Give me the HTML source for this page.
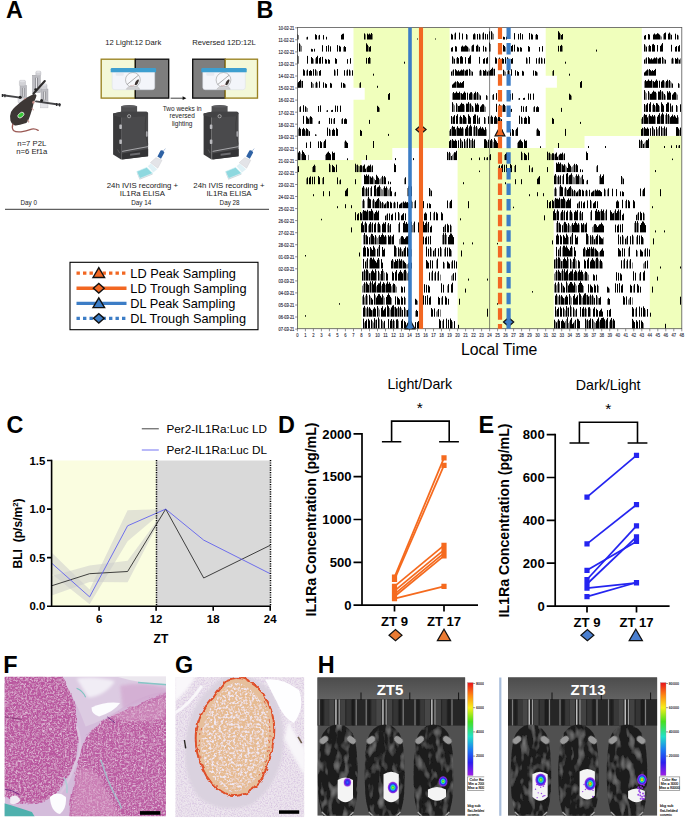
<!DOCTYPE html>
<html lang="en"><head><meta charset="utf-8"><title>Figure</title>
<style>
html,body{margin:0;padding:0;background:#fff;}
body{width:685px;height:819px;overflow:hidden;}
svg{display:block;}
svg text{font-family:"Liberation Sans",Arial,sans-serif;}
</style></head><body>
<svg width="685" height="819" viewBox="0 0 685 819">
<rect width="685" height="819" fill="#fff"/>
<text x="6" y="18" font-size="23.4" font-weight="bold" text-anchor="start" fill="#000" >A</text>
<text x="256.6" y="18" font-size="23.4" font-weight="bold" text-anchor="start" fill="#000" >B</text>
<text x="6.4" y="432.7" font-size="23.4" font-weight="bold" text-anchor="start" fill="#000" >C</text>
<text x="278" y="432.7" font-size="23.4" font-weight="bold" text-anchor="start" fill="#000" >D</text>
<text x="478.4" y="432.7" font-size="23.4" font-weight="bold" text-anchor="start" fill="#000" >E</text>
<text x="3.2" y="673" font-size="23.4" font-weight="bold" text-anchor="start" fill="#000" >F</text>
<text x="175.1" y="673" font-size="23.4" font-weight="bold" text-anchor="start" fill="#000" >G</text>
<text x="317.8" y="673" font-size="23.4" font-weight="bold" text-anchor="start" fill="#000" >H</text>
<g id="acto">
<rect x="297.4" y="27.5" width="384.4" height="301.2" fill="#fff"/>
<path d="M353.5 27.50H449.6V39.60H353.5ZM545.7 27.50H641.8V39.60H545.7ZM353.5 39.55H449.6V51.65H353.5ZM545.7 39.55H641.8V51.65H545.7ZM353.5 51.60H449.6V63.70H353.5ZM545.7 51.60H641.8V63.70H545.7ZM353.5 63.65H449.6V75.75H353.5ZM545.7 63.65H641.8V75.75H545.7ZM353.5 75.70H449.6V87.80H353.5ZM556.9 75.70H641.8V87.80H556.9ZM364.7 87.75H449.6V99.85H364.7ZM545.7 87.75H641.8V99.85H545.7ZM353.5 99.80H449.6V111.90H353.5ZM545.7 99.80H641.8V111.90H545.7ZM353.5 111.85H449.6V123.95H353.5ZM545.7 111.85H641.8V123.95H545.7ZM353.5 123.90H449.6V136.00H353.5ZM545.7 123.90H641.8V136.00H545.7ZM353.5 135.95H449.6V148.05H353.5ZM545.7 135.95H584.5V148.05H545.7ZM649.8 135.95H681.8V148.05H649.8ZM353.5 148.00H392.3V160.10H353.5ZM457.6 148.00H489.6V160.10H457.6ZM489.6 148.00H553.7V160.10H489.6ZM649.8 148.00H681.8V160.10H649.8ZM297.4 160.05H361.5V172.15H297.4ZM457.6 160.05H489.6V172.15H457.6ZM489.6 160.05H553.7V172.15H489.6ZM649.8 160.05H681.8V172.15H649.8ZM297.4 172.10H361.5V184.20H297.4ZM457.6 172.10H489.6V184.20H457.6ZM489.6 172.10H553.7V184.20H489.6ZM649.8 172.10H681.8V184.20H649.8ZM297.4 184.15H361.5V196.25H297.4ZM457.6 184.15H489.6V196.25H457.6ZM489.6 184.15H553.7V196.25H489.6ZM649.8 184.15H681.8V196.25H649.8ZM297.4 196.20H361.5V208.30H297.4ZM457.6 196.20H489.6V208.30H457.6ZM489.6 196.20H553.7V208.30H489.6ZM649.8 196.20H681.8V208.30H649.8ZM297.4 208.25H361.5V220.35H297.4ZM457.6 208.25H489.6V220.35H457.6ZM489.6 208.25H553.7V220.35H489.6ZM649.8 208.25H681.8V220.35H649.8ZM297.4 220.30H361.5V232.40H297.4ZM457.6 220.30H489.6V232.40H457.6ZM489.6 220.30H553.7V232.40H489.6ZM649.8 220.30H681.8V232.40H649.8ZM297.4 232.35H361.5V244.45H297.4ZM457.6 232.35H489.6V244.45H457.6ZM489.6 232.35H553.7V244.45H489.6ZM649.8 232.35H681.8V244.45H649.8ZM297.4 244.40H361.5V256.50H297.4ZM457.6 244.40H489.6V256.50H457.6ZM489.6 244.40H553.7V256.50H489.6ZM649.8 244.40H681.8V256.50H649.8ZM297.4 256.45H361.5V268.55H297.4ZM457.6 256.45H489.6V268.55H457.6ZM489.6 256.45H553.7V268.55H489.6ZM649.8 256.45H681.8V268.55H649.8ZM297.4 268.50H361.5V280.60H297.4ZM457.6 268.50H489.6V280.60H457.6ZM489.6 268.50H553.7V280.60H489.6ZM649.8 268.50H681.8V280.60H649.8ZM297.4 280.55H361.5V292.65H297.4ZM457.6 280.55H489.6V292.65H457.6ZM489.6 280.55H553.7V292.65H489.6ZM649.8 280.55H681.8V292.65H649.8ZM297.4 292.60H361.5V304.70H297.4ZM457.6 292.60H489.6V304.70H457.6ZM489.6 292.60H553.7V304.70H489.6ZM649.8 292.60H681.8V304.70H649.8ZM297.4 304.65H361.5V316.75H297.4ZM457.6 304.65H489.6V316.75H457.6ZM489.6 304.65H553.7V316.75H489.6ZM649.8 304.65H681.8V316.75H649.8ZM297.4 316.70H361.5V328.80H297.4ZM457.6 316.70H489.6V328.80H457.6ZM489.6 316.70H553.7V328.80H489.6ZM649.8 316.70H681.8V328.80H649.8Z" fill="#f0ffbc"/>
<path d="M298.5 39.5v-4.4M306.5 39.5v-2.3M318.5 39.5v-3.9M365.5 39.5v-5.1M372.5 39.5v-5.5M454.5 39.5v-5.8M467.5 39.5v-4.6M475.5 39.5v-5.2M480.5 39.5v-4.9M482.5 39.5v-6.0M492.5 39.5v-7.0M493.5 39.5v-5.7M535.5 39.5v-4.6M560.5 39.5v-5.6M660.5 39.5v-4.0M661.5 39.5v-3.0M663.5 39.5v-5.4M670.5 39.5v-5.8M678.5 39.5v-4.0M300.5 51.6v-7.0M301.5 51.6v-5.7M343.5 51.6v-4.6M368.5 51.6v-5.6M468.5 51.6v-4.0M469.5 51.6v-3.0M471.5 51.6v-5.4M478.5 51.6v-5.8M486.5 51.6v-4.0M490.5 51.6v-7.6M505.5 51.6v-4.5M507.5 51.6v-5.4M562.5 51.6v-5.7M645.5 51.6v-6.2M648.5 51.6v-5.6M298.5 63.7v-7.6M313.5 63.7v-4.5M315.5 63.7v-5.4M370.5 63.7v-5.7M453.5 63.7v-6.2M456.5 63.7v-5.6M498.5 63.7v-5.1M508.5 63.7v-5.4M509.5 63.7v-4.3M527.5 63.7v-5.2M538.5 63.7v-5.2M542.5 63.7v-5.1M645.5 63.7v-5.2M657.5 63.7v-5.4M663.5 63.7v-5.7M664.5 63.7v-4.6M671.5 63.7v-5.0M673.5 63.7v-5.0M678.5 63.7v-5.0M680.5 63.7v-5.3M306.5 75.7v-5.1M316.5 75.7v-5.4M317.5 75.7v-4.3M335.5 75.7v-5.2M346.5 75.7v-5.2M350.5 75.7v-5.1M452.5 75.7v-5.2M464.5 75.7v-5.4M470.5 75.7v-5.7M471.5 75.7v-4.6M479.5 75.7v-5.0M481.5 75.7v-5.0M486.5 75.7v-5.0M488.5 75.7v-5.3M493.5 75.7v-6.8M504.5 75.7v-4.9M505.5 75.7v-4.0M507.5 75.7v-5.0M509.5 75.7v-5.0M537.5 75.7v-3.3M552.5 75.7v-4.6M648.5 75.7v-5.6M301.5 87.8v-6.8M312.5 87.8v-4.9M313.5 87.8v-4.0M315.5 87.8v-5.0M317.5 87.8v-5.0M345.5 87.8v-3.3M359.5 87.8v-4.6M456.5 87.8v-5.6M644.5 87.8v-6.6M652.5 87.8v-6.8M664.5 87.8v-6.5M665.5 87.8v-5.5M668.5 87.8v-6.6M670.5 87.8v-6.6M671.5 87.8v-5.3M679.5 87.8v-3.9M452.5 99.8v-6.6M460.5 99.8v-6.8M472.5 99.8v-6.5M473.5 99.8v-5.5M476.5 99.8v-6.6M478.5 99.8v-6.6M479.5 99.8v-5.3M487.5 99.8v-3.9M492.5 99.8v-4.7M499.5 99.8v-4.7M500.5 99.8v-3.8M518.5 99.8v-1.4M571.5 99.8v-4.1M645.5 99.8v-8.1M646.5 99.8v-6.6M649.5 99.8v-7.3M656.5 99.8v-6.7M661.5 99.8v-8.2M663.5 99.8v-7.1M665.5 99.8v-4.4M676.5 99.8v-6.4M677.5 99.8v-5.2M299.5 111.9v-4.7M306.5 111.9v-4.7M307.5 111.9v-3.8M326.5 111.9v-1.4M379.5 111.9v-4.1M453.5 111.9v-8.1M454.5 111.9v-6.6M457.5 111.9v-7.3M464.5 111.9v-6.7M469.5 111.9v-8.2M471.5 111.9v-7.1M473.5 111.9v-4.4M484.5 111.9v-6.4M485.5 111.9v-5.2M502.5 111.9v-6.5M505.5 111.9v-5.9M510.5 111.9v-2.5M525.5 111.9v-5.0M533.5 111.9v-4.7M645.5 111.9v-6.6M652.5 111.9v-6.9M655.5 111.9v-5.6M659.5 111.9v-5.7M671.5 111.9v-5.5M677.5 111.9v-5.8M309.5 123.9v-6.5M312.5 123.9v-5.9M318.5 123.9v-2.5M333.5 123.9v-5.0M341.5 123.9v-4.7M452.5 123.9v-6.6M459.5 123.9v-6.9M462.5 123.9v-5.6M466.5 123.9v-5.7M478.5 123.9v-5.5M485.5 123.9v-5.8M490.5 123.9v-7.1M497.5 123.9v-5.4M500.5 123.9v-5.8M508.5 123.9v-1.3M522.5 123.9v-6.0M641.5 123.9v-5.2M643.5 123.9v-8.4M648.5 123.9v-8.1M655.5 123.9v-7.4M660.5 123.9v-7.7M665.5 123.9v-8.9M667.5 123.9v-8.9M669.5 123.9v-8.3M678.5 123.9v-6.6M298.5 135.9v-7.1M305.5 135.9v-5.4M308.5 135.9v-5.8M316.5 135.9v-1.3M330.5 135.9v-6.0M449.5 135.9v-5.2M451.5 135.9v-8.4M456.5 135.9v-8.1M463.5 135.9v-7.4M468.5 135.9v-7.7M473.5 135.9v-8.9M475.5 135.9v-8.9M477.5 135.9v-8.3M486.5 135.9v-6.6M515.5 135.9v-5.8M536.5 135.9v-6.3M643.5 135.9v-7.5M653.5 135.9v-8.0M657.5 135.9v-6.6M658.5 135.9v-8.2M662.5 135.9v-7.9M663.5 135.9v-7.9M665.5 135.9v-7.1M679.5 135.9v-6.1M323.5 148.0v-5.8M344.5 148.0v-6.3M451.5 148.0v-7.5M461.5 148.0v-8.0M465.5 148.0v-6.6M466.5 148.0v-8.2M470.5 148.0v-7.9M471.5 148.0v-7.9M473.5 148.0v-7.1M487.5 148.0v-6.1M492.5 148.0v-7.6M493.5 148.0v-6.1M500.5 148.0v-5.2M517.5 148.0v-5.2M640.5 148.0v-6.9M642.5 148.0v-6.9M644.5 148.0v-5.3M645.5 148.0v-6.6M678.5 148.0v-2.4M300.5 160.1v-7.6M301.5 160.1v-6.1M308.5 160.1v-5.2M325.5 160.1v-5.2M448.5 160.1v-6.9M450.5 160.1v-6.9M452.5 160.1v-5.3M453.5 160.1v-6.6M486.5 160.1v-2.4M489.5 160.1v-4.9M504.5 160.1v-5.1M507.5 160.1v-6.2M522.5 160.1v-7.0M548.5 160.1v-7.0M550.5 160.1v-6.3M551.5 160.1v-5.8M554.5 160.1v-5.7M558.5 160.1v-4.5M563.5 160.1v-5.6M297.5 172.1v-4.9M312.5 172.1v-5.1M315.5 172.1v-6.2M330.5 172.1v-7.0M356.5 172.1v-7.0M358.5 172.1v-6.3M359.5 172.1v-5.8M362.5 172.1v-5.7M366.5 172.1v-4.5M371.5 172.1v-5.6M498.5 172.1v-5.8M514.5 172.1v-6.1M531.5 172.1v-3.8M561.5 172.1v-7.9M565.5 172.1v-6.7M566.5 172.1v-5.4M571.5 172.1v-4.9M572.5 172.1v-5.7M573.5 172.1v-7.0M575.5 172.1v-7.0M596.5 172.1v-5.8M306.5 184.2v-5.8M322.5 184.2v-6.1M339.5 184.2v-3.8M369.5 184.2v-7.9M373.5 184.2v-6.7M374.5 184.2v-5.4M379.5 184.2v-4.9M380.5 184.2v-5.7M381.5 184.2v-7.0M383.5 184.2v-7.0M404.5 184.2v-5.8M556.5 184.2v-8.6M557.5 184.2v-7.4M559.5 184.2v-7.5M562.5 184.2v-8.2M568.5 184.2v-7.5M572.5 184.2v-9.1M573.5 184.2v-7.4M574.5 184.2v-6.7M575.5 184.2v-8.3M579.5 184.2v-8.1M580.5 184.2v-6.6M581.5 184.2v-7.8M586.5 184.2v-3.5M599.5 184.2v-8.2M622.5 184.2v-6.9M364.5 196.2v-8.6M365.5 196.2v-7.4M367.5 196.2v-7.5M370.5 196.2v-8.2M376.5 196.2v-7.5M380.5 196.2v-9.1M381.5 196.2v-7.4M382.5 196.2v-6.7M383.5 196.2v-8.3M387.5 196.2v-8.1M388.5 196.2v-6.6M389.5 196.2v-7.8M394.5 196.2v-3.5M407.5 196.2v-8.2M430.5 196.2v-6.9M554.5 196.2v-7.5M556.5 196.2v-7.5M559.5 196.2v-9.6M564.5 196.2v-7.8M566.5 196.2v-7.8M571.5 196.2v-8.4M573.5 196.2v-5.1M575.5 196.2v-5.3M578.5 196.2v-5.9M585.5 196.2v-5.4M587.5 196.2v-5.4M594.5 196.2v-5.7M605.5 196.2v-6.4M607.5 196.2v-6.7M642.5 196.2v-5.7M362.5 208.2v-7.5M364.5 208.2v-7.5M367.5 208.2v-9.6M372.5 208.2v-7.8M374.5 208.2v-7.8M379.5 208.2v-8.4M381.5 208.2v-5.1M383.5 208.2v-5.3M386.5 208.2v-5.9M393.5 208.2v-5.4M395.5 208.2v-5.4M402.5 208.2v-5.7M412.5 208.2v-6.4M414.5 208.2v-6.7M449.5 208.2v-5.7M554.5 208.2v-8.6M560.5 208.2v-8.8M565.5 208.2v-7.8M578.5 208.2v-5.7M591.5 208.2v-7.0M625.5 208.2v-7.2M362.5 220.3v-8.6M368.5 220.3v-8.8M373.5 220.3v-7.8M386.5 220.3v-5.7M399.5 220.3v-7.0M433.5 220.3v-7.2M556.5 220.3v-9.0M560.5 220.3v-7.0M563.5 220.3v-8.2M569.5 220.3v-8.5M572.5 220.3v-6.9M579.5 220.3v-7.9M581.5 220.3v-6.9M590.5 220.3v-8.4M600.5 220.3v-9.2M604.5 220.3v-7.4M605.5 220.3v-9.1M614.5 220.3v-9.1M619.5 220.3v-8.7M637.5 220.3v-6.7M644.5 220.3v-6.6M364.5 232.4v-9.0M368.5 232.4v-7.0M371.5 232.4v-8.2M377.5 232.4v-8.5M380.5 232.4v-6.9M387.5 232.4v-7.9M389.5 232.4v-6.9M398.5 232.4v-8.4M408.5 232.4v-9.2M412.5 232.4v-7.4M413.5 232.4v-9.1M422.5 232.4v-9.1M427.5 232.4v-8.7M444.5 232.4v-6.7M451.5 232.4v-6.6M556.5 232.4v-9.5M558.5 232.4v-9.5M563.5 232.4v-8.9M567.5 232.4v-6.9M569.5 232.4v-7.8M570.5 232.4v-6.3M571.5 232.4v-7.8M579.5 232.4v-7.8M584.5 232.4v-7.9M592.5 232.4v-5.5M593.5 232.4v-6.9M634.5 232.4v-9.5M636.5 232.4v-9.5M638.5 232.4v-9.5M363.5 244.4v-9.5M365.5 244.4v-9.5M370.5 244.4v-8.9M374.5 244.4v-6.9M376.5 244.4v-7.8M377.5 244.4v-6.3M378.5 244.4v-7.8M386.5 244.4v-7.8M391.5 244.4v-7.9M399.5 244.4v-5.5M400.5 244.4v-6.9M442.5 244.4v-9.5M444.5 244.4v-9.5M446.5 244.4v-9.5M568.5 244.4v-7.3M571.5 244.4v-9.7M588.5 244.4v-8.6M591.5 244.4v-7.7M593.5 244.4v-7.7M595.5 244.4v-6.8M603.5 244.4v-7.2M623.5 244.4v-7.9M626.5 244.4v-7.2M633.5 244.4v-8.1M636.5 244.4v-7.8M643.5 244.4v-6.0M375.5 256.5v-7.3M378.5 256.5v-9.7M396.5 256.5v-8.6M399.5 256.5v-7.7M401.5 256.5v-7.7M403.5 256.5v-6.8M411.5 256.5v-7.2M431.5 256.5v-7.9M434.5 256.5v-7.2M441.5 256.5v-8.1M444.5 256.5v-7.8M451.5 256.5v-6.0M559.5 256.5v-8.7M562.5 256.5v-9.1M572.5 256.5v-8.8M585.5 256.5v-7.9M590.5 256.5v-7.9M594.5 256.5v-7.8M598.5 256.5v-4.1M599.5 256.5v-4.3M628.5 256.5v-8.3M637.5 256.5v-5.6M644.5 256.5v-6.8M366.5 268.5v-8.7M369.5 268.5v-9.1M379.5 268.5v-8.8M393.5 268.5v-7.9M398.5 268.5v-7.9M402.5 268.5v-7.8M406.5 268.5v-4.1M407.5 268.5v-4.3M436.5 268.5v-8.3M444.5 268.5v-5.6M451.5 268.5v-6.8M555.5 268.5v-9.3M557.5 268.5v-9.5M560.5 268.5v-9.2M562.5 268.5v-7.5M568.5 268.5v-9.6M571.5 268.5v-8.2M572.5 268.5v-6.6M575.5 268.5v-9.7M576.5 268.5v-7.9M595.5 268.5v-9.0M598.5 268.5v-9.2M599.5 268.5v-7.4M602.5 268.5v-6.1M623.5 268.5v-8.3M626.5 268.5v-7.5M629.5 268.5v-7.9M632.5 268.5v-6.0M643.5 268.5v-5.0M644.5 268.5v-6.2M363.5 280.6v-9.3M365.5 280.6v-9.5M368.5 280.6v-9.2M370.5 280.6v-7.5M376.5 280.6v-9.6M379.5 280.6v-8.2M380.5 280.6v-6.6M383.5 280.6v-9.7M384.5 280.6v-7.9M403.5 280.6v-9.0M406.5 280.6v-9.2M407.5 280.6v-7.4M410.5 280.6v-6.1M431.5 280.6v-8.3M434.5 280.6v-7.5M437.5 280.6v-7.9M440.5 280.6v-6.0M451.5 280.6v-5.0M452.5 280.6v-6.2M554.5 280.6v-7.0M555.5 280.6v-8.6M557.5 280.6v-9.0M561.5 280.6v-9.5M563.5 280.6v-9.7M568.5 280.6v-6.3M573.5 280.6v-7.0M577.5 280.6v-7.7M583.5 280.6v-6.3M584.5 280.6v-7.7M587.5 280.6v-7.3M588.5 280.6v-5.9M639.5 280.6v-7.1M362.5 292.6v-7.0M363.5 292.6v-8.6M365.5 292.6v-9.0M369.5 292.6v-9.5M371.5 292.6v-9.7M376.5 292.6v-6.3M381.5 292.6v-7.0M385.5 292.6v-7.7M391.5 292.6v-6.3M392.5 292.6v-7.7M395.5 292.6v-7.3M396.5 292.6v-5.9M447.5 292.6v-7.1M554.5 292.6v-8.4M556.5 292.6v-7.3M557.5 292.6v-9.0M559.5 292.6v-9.0M562.5 292.6v-8.3M567.5 292.6v-9.4M575.5 292.6v-8.7M576.5 292.6v-7.0M583.5 292.6v-6.6M598.5 292.6v-6.7M609.5 292.6v-4.0M633.5 292.6v-7.1M362.5 304.7v-8.4M364.5 304.7v-7.3M365.5 304.7v-9.0M367.5 304.7v-9.0M370.5 304.7v-8.3M375.5 304.7v-9.4M383.5 304.7v-8.7M384.5 304.7v-7.0M391.5 304.7v-6.6M405.5 304.7v-6.7M417.5 304.7v-4.0M441.5 304.7v-7.1M557.5 304.7v-9.1M558.5 304.7v-8.3M560.5 304.7v-8.3M564.5 304.7v-6.4M570.5 304.7v-8.9M571.5 304.7v-7.2M581.5 304.7v-8.7M582.5 304.7v-7.1M586.5 304.7v-9.7M589.5 304.7v-8.5M591.5 304.7v-8.5M593.5 304.7v-8.4M597.5 304.7v-8.2M598.5 304.7v-6.6M607.5 304.7v-5.7M628.5 304.7v-5.2M629.5 304.7v-6.5M632.5 304.7v-7.2M365.5 316.7v-9.1M366.5 316.7v-8.3M368.5 316.7v-8.3M372.5 316.7v-6.4M378.5 316.7v-8.9M379.5 316.7v-7.2M389.5 316.7v-8.7M390.5 316.7v-7.1M394.5 316.7v-9.7M397.5 316.7v-8.5M399.5 316.7v-8.5M401.5 316.7v-8.4M405.5 316.7v-8.2M406.5 316.7v-6.6M415.5 316.7v-5.7M436.5 316.7v-5.2M437.5 316.7v-6.5M440.5 316.7v-7.2M556.5 316.7v-6.3M564.5 316.7v-7.7M565.5 316.7v-6.3M567.5 316.7v-8.9M571.5 316.7v-9.6M574.5 316.7v-7.9M575.5 316.7v-6.4M584.5 316.7v-7.8M586.5 316.7v-7.8M590.5 316.7v-8.1M635.5 316.7v-7.9M645.5 316.7v-7.0M364.5 328.8v-6.3M372.5 328.8v-7.7M373.5 328.8v-6.3M375.5 328.8v-8.9M379.5 328.8v-9.6M382.5 328.8v-7.9M383.5 328.8v-6.4M392.5 328.8v-7.8M394.5 328.8v-7.8M398.5 328.8v-8.1M442.5 328.8v-7.9M452.5 328.8v-7.0M555.5 328.8v-7.6M557.5 328.8v-8.1M565.5 328.8v-7.9M566.5 328.8v-9.7M568.5 328.8v-5.7M569.5 328.8v-7.4M574.5 328.8v-7.6M586.5 328.8v-8.6M588.5 328.8v-7.9M593.5 328.8v-8.3M594.5 328.8v-6.7M595.5 328.8v-5.9M599.5 328.8v-7.3M605.5 328.8v-7.7M609.5 328.8v-7.3M612.5 328.8v-8.3M643.5 328.8v-5.6" stroke="#000" stroke-opacity="0.5" stroke-width="1" fill="none"/>
<path d="M297.5 39.5v-5.2M307.5 39.5v-2.7M315.5 39.5v-5.3M316.5 39.5v-4.4M319.5 39.5v-4.6M323.5 39.5v-4.4M326.5 39.5v-2.7M341.5 39.5v-4.7M342.5 39.5v-5.6M343.5 39.5v-5.9M364.5 39.5v-6.1M367.5 39.5v-5.9M368.5 39.5v-5.0M369.5 39.5v-5.9M370.5 39.5v-5.0M371.5 39.5v-6.5M417.5 39.5v-1.0M435.5 39.5v-1.0M451.5 39.5v-5.7M452.5 39.5v-4.8M455.5 39.5v-6.9M459.5 39.5v-6.9M462.5 39.5v-6.0M466.5 39.5v-5.5M473.5 39.5v-5.2M474.5 39.5v-6.2M477.5 39.5v-5.5M479.5 39.5v-5.8M483.5 39.5v-7.1M485.5 39.5v-5.7M487.5 39.5v-5.3M489.5 39.5v-8.1M491.5 39.5v-8.3M503.5 39.5v-2.8M504.5 39.5v-2.4M506.5 39.5v-2.8M514.5 39.5v-6.4M518.5 39.5v-5.6M520.5 39.5v-6.4M522.5 39.5v-5.3M529.5 39.5v-6.5M531.5 39.5v-5.8M532.5 39.5v-4.9M536.5 39.5v-5.5M537.5 39.5v-4.6M558.5 39.5v-8.3M559.5 39.5v-6.9M561.5 39.5v-4.5M562.5 39.5v-5.5M644.5 39.5v-3.8M645.5 39.5v-4.5M648.5 39.5v-5.5M649.5 39.5v-5.0M653.5 39.5v-5.0M654.5 39.5v-6.0M655.5 39.5v-5.0M656.5 39.5v-5.3M657.5 39.5v-6.3M658.5 39.5v-5.8M659.5 39.5v-4.9M664.5 39.5v-6.4M665.5 39.5v-7.0M668.5 39.5v-5.8M669.5 39.5v-6.9M671.5 39.5v-4.7M675.5 39.5v-5.8M677.5 39.5v-4.7M297.5 51.6v-8.1M299.5 51.6v-8.3M311.5 51.6v-2.8M312.5 51.6v-2.4M314.5 51.6v-2.8M322.5 51.6v-6.4M326.5 51.6v-5.6M328.5 51.6v-6.4M330.5 51.6v-5.3M337.5 51.6v-6.5M339.5 51.6v-5.8M340.5 51.6v-4.9M344.5 51.6v-5.5M345.5 51.6v-4.6M366.5 51.6v-8.3M367.5 51.6v-6.9M369.5 51.6v-4.5M370.5 51.6v-5.5M451.5 51.6v-3.8M452.5 51.6v-4.5M455.5 51.6v-5.5M456.5 51.6v-5.0M461.5 51.6v-5.0M462.5 51.6v-6.0M463.5 51.6v-5.0M464.5 51.6v-5.3M465.5 51.6v-6.3M466.5 51.6v-5.8M467.5 51.6v-4.9M472.5 51.6v-6.4M473.5 51.6v-7.0M476.5 51.6v-5.8M477.5 51.6v-6.9M479.5 51.6v-4.7M483.5 51.6v-5.8M485.5 51.6v-4.7M489.5 51.6v-9.0M499.5 51.6v-7.8M503.5 51.6v-6.7M504.5 51.6v-5.6M508.5 51.6v-6.6M509.5 51.6v-7.9M511.5 51.6v-5.6M512.5 51.6v-6.7M514.5 51.6v-6.9M517.5 51.6v-4.8M518.5 51.6v-4.0M520.5 51.6v-4.5M521.5 51.6v-3.8M528.5 51.6v-5.6M529.5 51.6v-4.7M539.5 51.6v-4.6M542.5 51.6v-5.5M558.5 51.6v-5.8M560.5 51.6v-5.7M561.5 51.6v-6.7M596.5 51.6v-2.0M644.5 51.6v-7.4M646.5 51.6v-5.0M649.5 51.6v-6.7M650.5 51.6v-5.6M652.5 51.6v-7.2M653.5 51.6v-7.7M654.5 51.6v-6.5M657.5 51.6v-6.6M660.5 51.6v-5.7M661.5 51.6v-7.1M662.5 51.6v-8.5M671.5 51.6v-6.8M675.5 51.6v-4.7M676.5 51.6v-5.6M678.5 51.6v-5.4M679.5 51.6v-6.5M297.5 63.7v-9.0M307.5 63.7v-7.8M311.5 63.7v-6.7M312.5 63.7v-5.6M316.5 63.7v-6.6M317.5 63.7v-7.9M319.5 63.7v-5.6M320.5 63.7v-6.7M322.5 63.7v-6.9M325.5 63.7v-4.8M326.5 63.7v-4.0M328.5 63.7v-4.5M329.5 63.7v-3.8M335.5 63.7v-5.6M336.5 63.7v-4.7M347.5 63.7v-4.6M350.5 63.7v-5.5M366.5 63.7v-5.8M368.5 63.7v-5.7M369.5 63.7v-6.7M404.5 63.7v-2.0M452.5 63.7v-7.4M454.5 63.7v-5.0M457.5 63.7v-6.7M458.5 63.7v-5.6M460.5 63.7v-7.2M461.5 63.7v-7.7M462.5 63.7v-6.5M465.5 63.7v-6.6M468.5 63.7v-5.7M469.5 63.7v-7.1M470.5 63.7v-8.5M479.5 63.7v-6.8M483.5 63.7v-4.7M484.5 63.7v-5.6M486.5 63.7v-5.4M487.5 63.7v-6.5M495.5 63.7v-6.4M496.5 63.7v-5.4M499.5 63.7v-6.1M501.5 63.7v-4.7M502.5 63.7v-5.6M503.5 63.7v-4.7M505.5 63.7v-6.5M507.5 63.7v-6.4M511.5 63.7v-4.7M512.5 63.7v-5.6M526.5 63.7v-6.2M529.5 63.7v-6.7M536.5 63.7v-5.5M539.5 63.7v-6.2M541.5 63.7v-6.1M544.5 63.7v-5.4M565.5 63.7v-2.0M644.5 63.7v-4.2M646.5 63.7v-6.2M648.5 63.7v-6.5M649.5 63.7v-5.4M650.5 63.7v-4.4M651.5 63.7v-5.5M652.5 63.7v-4.2M653.5 63.7v-5.1M654.5 63.7v-6.1M655.5 63.7v-5.4M656.5 63.7v-6.4M658.5 63.7v-5.0M659.5 63.7v-6.0M660.5 63.7v-6.1M662.5 63.7v-6.8M665.5 63.7v-4.0M672.5 63.7v-5.9M675.5 63.7v-5.6M676.5 63.7v-4.7M677.5 63.7v-6.0M679.5 63.7v-4.1M303.5 75.7v-6.4M304.5 75.7v-5.4M307.5 75.7v-6.1M309.5 75.7v-4.7M310.5 75.7v-5.6M311.5 75.7v-4.7M313.5 75.7v-6.5M315.5 75.7v-6.4M319.5 75.7v-4.7M320.5 75.7v-5.6M334.5 75.7v-6.2M337.5 75.7v-6.7M344.5 75.7v-5.5M347.5 75.7v-6.2M349.5 75.7v-6.1M352.5 75.7v-5.4M373.5 75.7v-2.0M451.5 75.7v-4.2M453.5 75.7v-6.2M455.5 75.7v-6.5M456.5 75.7v-5.4M457.5 75.7v-4.4M458.5 75.7v-5.5M459.5 75.7v-4.2M460.5 75.7v-5.1M461.5 75.7v-6.1M462.5 75.7v-5.4M463.5 75.7v-6.4M465.5 75.7v-5.0M466.5 75.7v-6.0M467.5 75.7v-6.1M469.5 75.7v-6.8M472.5 75.7v-4.0M480.5 75.7v-5.9M483.5 75.7v-5.6M484.5 75.7v-4.7M485.5 75.7v-6.0M487.5 75.7v-4.1M489.5 75.7v-4.6M490.5 75.7v-5.7M491.5 75.7v-6.8M492.5 75.7v-8.1M494.5 75.7v-6.9M503.5 75.7v-5.9M508.5 75.7v-6.0M511.5 75.7v-6.4M515.5 75.7v-5.5M517.5 75.7v-4.5M518.5 75.7v-3.7M522.5 75.7v-4.9M523.5 75.7v-4.2M533.5 75.7v-5.3M535.5 75.7v-4.8M536.5 75.7v-4.1M553.5 75.7v-5.5M569.5 75.7v-2.0M644.5 75.7v-3.3M645.5 75.7v-4.3M646.5 75.7v-5.3M647.5 75.7v-6.3M649.5 75.7v-6.7M650.5 75.7v-5.6M651.5 75.7v-4.5M652.5 75.7v-5.6M653.5 75.7v-4.7M654.5 75.7v-5.7M655.5 75.7v-6.8M297.5 87.8v-4.6M298.5 87.8v-5.7M299.5 87.8v-6.8M300.5 87.8v-8.1M302.5 87.8v-6.9M311.5 87.8v-5.9M316.5 87.8v-6.0M319.5 87.8v-6.4M323.5 87.8v-5.5M325.5 87.8v-4.5M326.5 87.8v-3.7M330.5 87.8v-4.9M331.5 87.8v-4.2M341.5 87.8v-5.3M343.5 87.8v-4.8M344.5 87.8v-4.1M360.5 87.8v-5.5M377.5 87.8v-2.0M452.5 87.8v-3.3M453.5 87.8v-4.3M454.5 87.8v-5.3M455.5 87.8v-6.3M457.5 87.8v-6.7M458.5 87.8v-5.6M459.5 87.8v-4.5M460.5 87.8v-5.6M461.5 87.8v-4.7M462.5 87.8v-5.7M463.5 87.8v-6.8M580.5 87.8v-5.7M581.5 87.8v-6.8M645.5 87.8v-7.8M646.5 87.8v-6.6M647.5 87.8v-7.0M648.5 87.8v-8.3M649.5 87.8v-7.0M650.5 87.8v-6.8M651.5 87.8v-8.1M653.5 87.8v-6.7M654.5 87.8v-5.7M655.5 87.8v-7.0M656.5 87.8v-8.3M657.5 87.8v-7.0M659.5 87.8v-7.1M661.5 87.8v-6.2M662.5 87.8v-7.4M663.5 87.8v-7.7M666.5 87.8v-6.8M667.5 87.8v-8.1M669.5 87.8v-7.8M672.5 87.8v-4.3M678.5 87.8v-4.6M388.5 99.8v-5.7M389.5 99.8v-6.8M453.5 99.8v-7.8M454.5 99.8v-6.6M455.5 99.8v-7.0M456.5 99.8v-8.3M457.5 99.8v-7.0M458.5 99.8v-6.8M459.5 99.8v-8.1M461.5 99.8v-6.7M462.5 99.8v-5.7M463.5 99.8v-7.0M464.5 99.8v-8.3M465.5 99.8v-7.0M467.5 99.8v-7.1M469.5 99.8v-6.2M470.5 99.8v-7.4M471.5 99.8v-7.7M474.5 99.8v-6.8M475.5 99.8v-8.1M477.5 99.8v-7.8M480.5 99.8v-4.3M486.5 99.8v-4.6M493.5 99.8v-5.6M496.5 99.8v-6.7M498.5 99.8v-5.6M510.5 99.8v-5.9M512.5 99.8v-6.5M519.5 99.8v-1.7M523.5 99.8v-1.7M524.5 99.8v-2.0M528.5 99.8v-6.4M530.5 99.8v-6.1M533.5 99.8v-6.3M569.5 99.8v-6.1M570.5 99.8v-5.1M644.5 99.8v-9.7M648.5 99.8v-8.7M650.5 99.8v-5.9M651.5 99.8v-6.2M652.5 99.8v-7.6M653.5 99.8v-9.1M654.5 99.8v-8.1M655.5 99.8v-8.0M658.5 99.8v-8.3M659.5 99.8v-8.2M660.5 99.8v-9.8M662.5 99.8v-8.5M664.5 99.8v-5.8M667.5 99.8v-8.6M668.5 99.8v-7.2M669.5 99.8v-8.6M670.5 99.8v-7.2M672.5 99.8v-5.2M673.5 99.8v-6.5M674.5 99.8v-7.7M675.5 99.8v-7.6M300.5 111.9v-5.6M303.5 111.9v-6.7M305.5 111.9v-5.6M318.5 111.9v-5.9M320.5 111.9v-6.5M327.5 111.9v-1.7M331.5 111.9v-1.7M332.5 111.9v-2.0M335.5 111.9v-6.4M337.5 111.9v-6.1M340.5 111.9v-6.3M377.5 111.9v-6.1M378.5 111.9v-5.1M452.5 111.9v-9.7M456.5 111.9v-8.7M458.5 111.9v-5.9M459.5 111.9v-6.2M460.5 111.9v-7.6M461.5 111.9v-9.1M462.5 111.9v-8.1M463.5 111.9v-8.0M466.5 111.9v-8.3M467.5 111.9v-8.2M468.5 111.9v-9.8M470.5 111.9v-8.5M472.5 111.9v-5.8M475.5 111.9v-8.6M476.5 111.9v-7.2M477.5 111.9v-8.6M478.5 111.9v-7.2M480.5 111.9v-5.2M481.5 111.9v-6.5M482.5 111.9v-7.7M483.5 111.9v-7.6M496.5 111.9v-8.1M499.5 111.9v-7.6M500.5 111.9v-6.4M501.5 111.9v-5.2M503.5 111.9v-7.7M504.5 111.9v-7.0M511.5 111.9v-3.0M521.5 111.9v-6.0M523.5 111.9v-5.5M526.5 111.9v-5.9M534.5 111.9v-5.6M536.5 111.9v-4.7M537.5 111.9v-5.6M538.5 111.9v-4.7M561.5 111.9v-4.0M644.5 111.9v-7.9M646.5 111.9v-7.4M647.5 111.9v-8.8M649.5 111.9v-8.1M650.5 111.9v-9.7M653.5 111.9v-8.3M654.5 111.9v-6.9M656.5 111.9v-8.9M657.5 111.9v-8.4M658.5 111.9v-7.0M661.5 111.9v-9.6M662.5 111.9v-8.0M663.5 111.9v-6.5M666.5 111.9v-7.9M667.5 111.9v-9.4M668.5 111.9v-9.4M670.5 111.9v-8.4M672.5 111.9v-6.5M676.5 111.9v-6.9M680.5 111.9v-7.6M303.5 123.9v-8.1M306.5 123.9v-7.6M307.5 123.9v-6.4M308.5 123.9v-5.2M310.5 123.9v-7.7M311.5 123.9v-7.0M319.5 123.9v-3.0M329.5 123.9v-6.0M331.5 123.9v-5.5M334.5 123.9v-5.9M342.5 123.9v-5.6M344.5 123.9v-4.7M345.5 123.9v-5.6M346.5 123.9v-4.7M369.5 123.9v-4.0M451.5 123.9v-7.9M453.5 123.9v-7.4M454.5 123.9v-8.8M456.5 123.9v-8.1M457.5 123.9v-9.7M460.5 123.9v-8.3M461.5 123.9v-6.9M463.5 123.9v-8.9M464.5 123.9v-8.4M465.5 123.9v-7.0M468.5 123.9v-9.6M469.5 123.9v-8.0M470.5 123.9v-6.5M473.5 123.9v-7.9M474.5 123.9v-9.4M475.5 123.9v-9.4M477.5 123.9v-8.4M479.5 123.9v-6.5M484.5 123.9v-6.9M488.5 123.9v-7.6M491.5 123.9v-8.4M492.5 123.9v-7.1M494.5 123.9v-6.7M495.5 123.9v-8.0M496.5 123.9v-6.7M498.5 123.9v-7.6M499.5 123.9v-6.8M501.5 123.9v-4.7M507.5 123.9v-1.6M519.5 123.9v-8.3M521.5 123.9v-7.1M524.5 123.9v-6.0M525.5 123.9v-7.2M526.5 123.9v-6.0M528.5 123.9v-8.0M529.5 123.9v-6.8M552.5 123.9v-6.0M553.5 123.9v-5.0M580.5 123.9v-2.0M642.5 123.9v-6.8M644.5 123.9v-10.0M645.5 123.9v-9.0M646.5 123.9v-9.1M647.5 123.9v-6.6M649.5 123.9v-9.7M650.5 123.9v-8.1M651.5 123.9v-7.5M652.5 123.9v-9.0M653.5 123.9v-7.5M654.5 123.9v-8.8M657.5 123.9v-7.3M658.5 123.9v-9.0M659.5 123.9v-10.7M661.5 123.9v-9.5M662.5 123.9v-11.3M663.5 123.9v-9.5M666.5 123.9v-10.6M668.5 123.9v-9.9M670.5 123.9v-6.7M671.5 123.9v-7.8M672.5 123.9v-9.3M673.5 123.9v-7.4M674.5 123.9v-8.8M675.5 123.9v-7.4M676.5 123.9v-6.0M677.5 123.9v-8.7M299.5 135.9v-8.4M300.5 135.9v-7.1M302.5 135.9v-6.7M303.5 135.9v-8.0M304.5 135.9v-6.7M306.5 135.9v-7.6M307.5 135.9v-6.8M309.5 135.9v-4.7M315.5 135.9v-1.6M327.5 135.9v-8.3M329.5 135.9v-7.1M332.5 135.9v-6.0M333.5 135.9v-7.2M334.5 135.9v-6.0M336.5 135.9v-8.0M337.5 135.9v-6.8M360.5 135.9v-6.0M361.5 135.9v-5.0M388.5 135.9v-2.0M450.5 135.9v-6.8M452.5 135.9v-10.0M453.5 135.9v-9.0M454.5 135.9v-9.1M455.5 135.9v-6.6M457.5 135.9v-9.7M458.5 135.9v-8.1M459.5 135.9v-7.5M460.5 135.9v-9.0M461.5 135.9v-7.5M462.5 135.9v-8.8M465.5 135.9v-7.3M466.5 135.9v-9.0M467.5 135.9v-10.7M469.5 135.9v-9.5M470.5 135.9v-11.3M471.5 135.9v-9.5M474.5 135.9v-10.6M476.5 135.9v-9.9M478.5 135.9v-6.7M479.5 135.9v-7.8M480.5 135.9v-9.3M481.5 135.9v-7.4M482.5 135.9v-8.8M483.5 135.9v-7.4M484.5 135.9v-6.0M485.5 135.9v-8.7M498.5 135.9v-5.5M502.5 135.9v-6.3M510.5 135.9v-6.6M512.5 135.9v-6.9M513.5 135.9v-5.8M516.5 135.9v-7.1M517.5 135.9v-8.5M537.5 135.9v-7.5M538.5 135.9v-6.3M539.5 135.9v-5.1M565.5 135.9v-7.0M641.5 135.9v-6.8M642.5 135.9v-8.1M644.5 135.9v-8.9M645.5 135.9v-7.5M646.5 135.9v-7.1M647.5 135.9v-8.4M648.5 135.9v-7.1M650.5 135.9v-7.7M652.5 135.9v-9.5M654.5 135.9v-6.5M656.5 135.9v-8.9M659.5 135.9v-9.7M661.5 135.9v-9.4M664.5 135.9v-9.4M666.5 135.9v-8.5M676.5 135.9v-8.8M677.5 135.9v-8.9M678.5 135.9v-7.5M680.5 135.9v-8.3M306.5 148.0v-5.5M310.5 148.0v-6.3M318.5 148.0v-6.6M320.5 148.0v-6.9M321.5 148.0v-5.8M324.5 148.0v-7.1M325.5 148.0v-8.5M345.5 148.0v-7.5M346.5 148.0v-6.3M347.5 148.0v-5.1M373.5 148.0v-7.0M449.5 148.0v-6.8M450.5 148.0v-8.1M452.5 148.0v-8.9M453.5 148.0v-7.5M454.5 148.0v-7.1M455.5 148.0v-8.4M456.5 148.0v-7.1M458.5 148.0v-7.7M460.5 148.0v-9.5M462.5 148.0v-6.5M464.5 148.0v-8.9M467.5 148.0v-9.7M469.5 148.0v-9.4M472.5 148.0v-9.4M474.5 148.0v-8.5M484.5 148.0v-8.8M485.5 148.0v-8.9M486.5 148.0v-7.5M488.5 148.0v-8.3M490.5 148.0v-7.6M491.5 148.0v-9.0M494.5 148.0v-9.7M495.5 148.0v-8.1M496.5 148.0v-6.6M497.5 148.0v-5.0M518.5 148.0v-6.4M519.5 148.0v-7.6M520.5 148.0v-8.5M521.5 148.0v-7.1M522.5 148.0v-5.8M524.5 148.0v-8.5M525.5 148.0v-7.1M526.5 148.0v-7.5M540.5 148.0v-1.8M558.5 148.0v-5.0M588.5 148.0v-2.0M605.5 148.0v-2.0M639.5 148.0v-8.2M641.5 148.0v-8.2M643.5 148.0v-4.1M646.5 148.0v-7.9M647.5 148.0v-7.8M648.5 148.0v-9.3M664.5 148.0v-2.0M671.5 148.0v-2.6M676.5 148.0v-2.9M679.5 148.0v-2.9M298.5 160.1v-7.6M299.5 160.1v-9.0M302.5 160.1v-9.7M303.5 160.1v-8.1M304.5 160.1v-6.6M305.5 160.1v-5.0M326.5 160.1v-6.4M327.5 160.1v-7.6M328.5 160.1v-8.5M329.5 160.1v-7.1M330.5 160.1v-5.8M332.5 160.1v-8.5M333.5 160.1v-7.1M334.5 160.1v-7.5M347.5 160.1v-1.8M366.5 160.1v-5.0M395.5 160.1v-2.0M413.5 160.1v-2.0M447.5 160.1v-8.2M449.5 160.1v-8.2M451.5 160.1v-4.1M454.5 160.1v-7.9M455.5 160.1v-7.8M456.5 160.1v-9.3M471.5 160.1v-2.0M479.5 160.1v-2.6M484.5 160.1v-2.9M487.5 160.1v-2.9M490.5 160.1v-5.9M505.5 160.1v-6.2M506.5 160.1v-7.4M521.5 160.1v-8.4M524.5 160.1v-7.2M525.5 160.1v-6.1M526.5 160.1v-4.9M528.5 160.1v-7.5M547.5 160.1v-8.4M549.5 160.1v-7.5M552.5 160.1v-6.9M553.5 160.1v-6.8M555.5 160.1v-6.4M556.5 160.1v-7.6M557.5 160.1v-3.4M559.5 160.1v-5.6M560.5 160.1v-6.6M561.5 160.1v-6.3M562.5 160.1v-7.5M564.5 160.1v-6.7M586.5 160.1v-8.5M587.5 160.1v-7.1M672.5 160.1v-1.5M298.5 172.1v-5.9M313.5 172.1v-6.2M314.5 172.1v-7.4M329.5 172.1v-8.4M332.5 172.1v-7.2M333.5 172.1v-6.1M334.5 172.1v-4.9M336.5 172.1v-7.5M355.5 172.1v-8.4M357.5 172.1v-7.5M360.5 172.1v-6.9M361.5 172.1v-6.8M363.5 172.1v-6.4M364.5 172.1v-7.6M365.5 172.1v-3.4M367.5 172.1v-5.6M368.5 172.1v-6.6M369.5 172.1v-6.3M370.5 172.1v-7.5M372.5 172.1v-6.7M394.5 172.1v-8.5M395.5 172.1v-7.1M479.5 172.1v-1.5M499.5 172.1v-6.9M501.5 172.1v-6.6M502.5 172.1v-7.8M504.5 172.1v-7.4M506.5 172.1v-7.5M510.5 172.1v-8.2M511.5 172.1v-6.9M515.5 172.1v-7.2M529.5 172.1v-6.8M532.5 172.1v-4.7M547.5 172.1v-5.0M556.5 172.1v-9.4M557.5 172.1v-8.3M558.5 172.1v-9.9M559.5 172.1v-8.3M560.5 172.1v-9.5M562.5 172.1v-7.7M563.5 172.1v-6.5M564.5 172.1v-7.9M567.5 172.1v-4.1M568.5 172.1v-9.4M569.5 172.1v-7.9M570.5 172.1v-6.4M574.5 172.1v-8.3M576.5 172.1v-8.1M577.5 172.1v-6.8M580.5 172.1v-2.9M582.5 172.1v-2.4M597.5 172.1v-6.9M655.5 172.1v-2.0M307.5 184.2v-6.9M309.5 184.2v-6.6M310.5 184.2v-7.8M312.5 184.2v-7.4M314.5 184.2v-7.5M318.5 184.2v-8.2M319.5 184.2v-6.9M323.5 184.2v-7.2M337.5 184.2v-6.8M340.5 184.2v-4.7M355.5 184.2v-5.0M364.5 184.2v-9.4M365.5 184.2v-8.3M366.5 184.2v-9.9M367.5 184.2v-8.3M368.5 184.2v-9.5M370.5 184.2v-7.7M371.5 184.2v-6.5M372.5 184.2v-7.9M375.5 184.2v-4.1M376.5 184.2v-9.4M377.5 184.2v-7.9M378.5 184.2v-6.4M382.5 184.2v-8.3M384.5 184.2v-8.1M385.5 184.2v-6.8M388.5 184.2v-2.9M390.5 184.2v-2.4M405.5 184.2v-6.9M463.5 184.2v-2.0M505.5 184.2v-2.0M515.5 184.2v-5.0M521.5 184.2v-5.0M537.5 184.2v-5.5M538.5 184.2v-6.8M539.5 184.2v-8.1M554.5 184.2v-8.6M555.5 184.2v-10.2M558.5 184.2v-8.8M560.5 184.2v-8.9M563.5 184.2v-9.8M566.5 184.2v-10.5M567.5 184.2v-11.2M569.5 184.2v-8.9M570.5 184.2v-9.5M571.5 184.2v-10.9M576.5 184.2v-9.9M577.5 184.2v-8.1M578.5 184.2v-9.7M582.5 184.2v-9.3M583.5 184.2v-4.9M587.5 184.2v-4.3M600.5 184.2v-9.8M601.5 184.2v-6.7M602.5 184.2v-8.2M603.5 184.2v-9.8M621.5 184.2v-8.2M623.5 184.2v-5.6M313.5 196.2v-2.0M323.5 196.2v-5.0M329.5 196.2v-5.0M345.5 196.2v-5.5M346.5 196.2v-6.8M347.5 196.2v-8.1M362.5 196.2v-8.6M363.5 196.2v-10.2M366.5 196.2v-8.8M368.5 196.2v-8.9M371.5 196.2v-9.8M374.5 196.2v-10.5M375.5 196.2v-11.2M377.5 196.2v-8.9M378.5 196.2v-9.5M379.5 196.2v-10.9M384.5 196.2v-9.9M385.5 196.2v-8.1M386.5 196.2v-9.7M390.5 196.2v-9.3M391.5 196.2v-4.9M395.5 196.2v-4.3M408.5 196.2v-9.8M409.5 196.2v-6.7M410.5 196.2v-8.2M411.5 196.2v-9.8M429.5 196.2v-8.2M431.5 196.2v-5.6M529.5 196.2v-2.0M537.5 196.2v-4.0M543.5 196.2v-3.0M555.5 196.2v-8.9M560.5 196.2v-11.5M561.5 196.2v-9.6M562.5 196.2v-8.9M565.5 196.2v-9.3M567.5 196.2v-6.3M568.5 196.2v-7.6M569.5 196.2v-9.1M570.5 196.2v-10.1M572.5 196.2v-6.8M574.5 196.2v-6.3M576.5 196.2v-3.7M577.5 196.2v-4.8M579.5 196.2v-7.1M580.5 196.2v-6.4M582.5 196.2v-6.5M583.5 196.2v-5.5M586.5 196.2v-6.4M589.5 196.2v-6.4M591.5 196.2v-3.7M592.5 196.2v-4.6M593.5 196.2v-5.5M595.5 196.2v-6.7M596.5 196.2v-5.5M597.5 196.2v-6.6M598.5 196.2v-5.7M599.5 196.2v-6.1M600.5 196.2v-5.1M601.5 196.2v-4.1M604.5 196.2v-7.6M608.5 196.2v-7.9M612.5 196.2v-7.5M616.5 196.2v-7.1M620.5 196.2v-4.8M622.5 196.2v-4.9M623.5 196.2v-4.1M640.5 196.2v-7.7M643.5 196.2v-7.1M644.5 196.2v-8.4M660.5 196.2v-7.0M337.5 208.2v-2.0M345.5 208.2v-4.0M351.5 208.2v-3.0M363.5 208.2v-8.9M368.5 208.2v-11.5M369.5 208.2v-9.6M370.5 208.2v-8.9M373.5 208.2v-9.3M375.5 208.2v-6.3M376.5 208.2v-7.6M377.5 208.2v-9.1M378.5 208.2v-10.1M380.5 208.2v-6.8M382.5 208.2v-6.3M384.5 208.2v-3.7M385.5 208.2v-4.8M387.5 208.2v-7.1M388.5 208.2v-6.4M390.5 208.2v-6.5M391.5 208.2v-5.5M394.5 208.2v-6.4M397.5 208.2v-6.4M399.5 208.2v-3.7M400.5 208.2v-4.6M401.5 208.2v-5.5M403.5 208.2v-6.7M404.5 208.2v-5.5M405.5 208.2v-6.6M406.5 208.2v-5.7M407.5 208.2v-6.1M408.5 208.2v-5.1M409.5 208.2v-4.1M411.5 208.2v-7.6M415.5 208.2v-7.9M419.5 208.2v-7.5M423.5 208.2v-7.1M427.5 208.2v-4.8M429.5 208.2v-4.9M430.5 208.2v-4.1M447.5 208.2v-7.7M450.5 208.2v-7.1M451.5 208.2v-8.4M468.5 208.2v-7.0M513.5 208.2v-1.5M547.5 208.2v-8.1M549.5 208.2v-6.0M550.5 208.2v-7.1M552.5 208.2v-8.3M553.5 208.2v-7.0M555.5 208.2v-10.3M556.5 208.2v-9.5M557.5 208.2v-9.6M558.5 208.2v-8.8M559.5 208.2v-10.5M561.5 208.2v-9.4M562.5 208.2v-9.1M563.5 208.2v-11.4M564.5 208.2v-9.6M566.5 208.2v-6.7M567.5 208.2v-8.3M568.5 208.2v-9.8M569.5 208.2v-8.0M570.5 208.2v-9.6M577.5 208.2v-4.7M579.5 208.2v-6.8M581.5 208.2v-6.9M583.5 208.2v-5.5M584.5 208.2v-6.6M587.5 208.2v-7.8M590.5 208.2v-8.3M593.5 208.2v-4.9M594.5 208.2v-6.0M595.5 208.2v-7.2M597.5 208.2v-6.9M616.5 208.2v-6.7M617.5 208.2v-7.9M618.5 208.2v-6.7M622.5 208.2v-8.4M626.5 208.2v-8.5M628.5 208.2v-8.1M629.5 208.2v-6.8M633.5 208.2v-8.1M634.5 208.2v-6.8M652.5 208.2v-2.0M321.5 220.3v-1.5M355.5 220.3v-8.1M357.5 220.3v-6.0M358.5 220.3v-7.1M360.5 220.3v-8.3M361.5 220.3v-7.0M363.5 220.3v-10.3M364.5 220.3v-9.5M365.5 220.3v-9.6M366.5 220.3v-8.8M367.5 220.3v-10.5M369.5 220.3v-9.4M370.5 220.3v-9.1M371.5 220.3v-11.4M372.5 220.3v-9.6M374.5 220.3v-6.7M375.5 220.3v-8.3M376.5 220.3v-9.8M377.5 220.3v-8.0M378.5 220.3v-9.6M385.5 220.3v-4.7M387.5 220.3v-6.8M389.5 220.3v-6.9M391.5 220.3v-5.5M392.5 220.3v-6.6M395.5 220.3v-7.8M398.5 220.3v-8.3M401.5 220.3v-4.9M402.5 220.3v-6.0M403.5 220.3v-7.2M405.5 220.3v-6.9M424.5 220.3v-6.7M425.5 220.3v-7.9M426.5 220.3v-6.7M430.5 220.3v-8.4M434.5 220.3v-8.5M436.5 220.3v-8.1M437.5 220.3v-6.8M441.5 220.3v-8.1M442.5 220.3v-6.8M460.5 220.3v-2.0M544.5 220.3v-5.0M553.5 220.3v-9.1M554.5 220.3v-10.9M555.5 220.3v-7.3M557.5 220.3v-10.7M558.5 220.3v-9.0M561.5 220.3v-8.6M562.5 220.3v-10.3M564.5 220.3v-9.8M566.5 220.3v-8.2M567.5 220.3v-9.7M570.5 220.3v-10.1M571.5 220.3v-8.5M574.5 220.3v-8.2M575.5 220.3v-9.8M576.5 220.3v-8.7M577.5 220.3v-10.4M580.5 220.3v-9.4M582.5 220.3v-8.3M591.5 220.3v-10.0M595.5 220.3v-9.5M596.5 220.3v-11.3M597.5 220.3v-8.6M598.5 220.3v-10.3M599.5 220.3v-8.6M601.5 220.3v-11.0M602.5 220.3v-9.2M603.5 220.3v-10.7M606.5 220.3v-10.8M610.5 220.3v-10.0M611.5 220.3v-8.4M612.5 220.3v-6.8M613.5 220.3v-7.4M615.5 220.3v-10.9M616.5 220.3v-7.4M617.5 220.3v-9.2M618.5 220.3v-10.9M620.5 220.3v-10.4M622.5 220.3v-5.5M623.5 220.3v-6.8M636.5 220.3v-5.5M638.5 220.3v-8.0M640.5 220.3v-8.6M641.5 220.3v-7.2M643.5 220.3v-7.8M351.5 232.4v-5.0M361.5 232.4v-9.1M362.5 232.4v-10.9M363.5 232.4v-7.3M365.5 232.4v-10.7M366.5 232.4v-9.0M369.5 232.4v-8.6M370.5 232.4v-10.3M372.5 232.4v-9.8M374.5 232.4v-8.2M375.5 232.4v-9.7M378.5 232.4v-10.1M379.5 232.4v-8.5M382.5 232.4v-8.2M383.5 232.4v-9.8M384.5 232.4v-8.7M385.5 232.4v-10.4M388.5 232.4v-9.4M390.5 232.4v-8.3M399.5 232.4v-10.0M403.5 232.4v-9.5M404.5 232.4v-11.3M405.5 232.4v-8.6M406.5 232.4v-10.3M407.5 232.4v-8.6M409.5 232.4v-11.0M410.5 232.4v-9.2M411.5 232.4v-10.7M414.5 232.4v-10.8M418.5 232.4v-10.0M419.5 232.4v-8.4M420.5 232.4v-6.8M421.5 232.4v-7.4M423.5 232.4v-10.9M424.5 232.4v-7.4M425.5 232.4v-9.2M426.5 232.4v-10.9M428.5 232.4v-10.4M430.5 232.4v-5.5M431.5 232.4v-6.8M443.5 232.4v-5.5M445.5 232.4v-8.0M447.5 232.4v-8.6M448.5 232.4v-7.2M450.5 232.4v-7.8M557.5 232.4v-11.4M559.5 232.4v-9.7M560.5 232.4v-8.1M562.5 232.4v-7.2M564.5 232.4v-10.6M565.5 232.4v-10.2M566.5 232.4v-8.5M568.5 232.4v-9.3M572.5 232.4v-9.3M573.5 232.4v-7.5M574.5 232.4v-9.3M575.5 232.4v-11.0M576.5 232.4v-9.3M577.5 232.4v-7.8M578.5 232.4v-9.2M581.5 232.4v-9.3M582.5 232.4v-7.9M583.5 232.4v-9.3M585.5 232.4v-8.1M586.5 232.4v-9.7M594.5 232.4v-8.2M595.5 232.4v-8.4M596.5 232.4v-7.1M597.5 232.4v-5.4M598.5 232.4v-6.7M599.5 232.4v-8.0M600.5 232.4v-8.2M601.5 232.4v-9.7M602.5 232.4v-8.2M603.5 232.4v-6.8M615.5 232.4v-7.8M617.5 232.4v-6.7M618.5 232.4v-8.0M620.5 232.4v-7.9M622.5 232.4v-8.5M635.5 232.4v-11.3M637.5 232.4v-11.3M640.5 232.4v-7.5M641.5 232.4v-9.3M642.5 232.4v-11.0M643.5 232.4v-10.8M644.5 232.4v-9.1M645.5 232.4v-7.3M655.5 232.4v-2.0M664.5 232.4v-2.0M364.5 244.4v-11.4M366.5 244.4v-9.7M367.5 244.4v-8.1M369.5 244.4v-7.2M371.5 244.4v-10.6M372.5 244.4v-10.2M373.5 244.4v-8.5M375.5 244.4v-9.3M379.5 244.4v-9.3M380.5 244.4v-7.5M381.5 244.4v-9.3M382.5 244.4v-11.0M383.5 244.4v-9.3M384.5 244.4v-7.8M385.5 244.4v-9.2M388.5 244.4v-9.3M389.5 244.4v-7.9M390.5 244.4v-9.3M392.5 244.4v-8.1M393.5 244.4v-9.7M401.5 244.4v-8.2M402.5 244.4v-8.4M403.5 244.4v-7.1M404.5 244.4v-5.4M405.5 244.4v-6.7M406.5 244.4v-8.0M407.5 244.4v-8.2M408.5 244.4v-9.7M409.5 244.4v-8.2M410.5 244.4v-6.8M423.5 244.4v-7.8M425.5 244.4v-6.7M426.5 244.4v-8.0M428.5 244.4v-7.9M430.5 244.4v-8.5M443.5 244.4v-11.3M445.5 244.4v-11.3M448.5 244.4v-7.5M449.5 244.4v-9.3M450.5 244.4v-11.0M451.5 244.4v-10.8M452.5 244.4v-9.1M453.5 244.4v-7.3M463.5 244.4v-2.0M472.5 244.4v-2.0M497.5 244.4v-1.5M552.5 244.4v-4.0M556.5 244.4v-8.9M557.5 244.4v-10.6M558.5 244.4v-8.9M560.5 244.4v-9.5M561.5 244.4v-8.0M563.5 244.4v-9.5M564.5 244.4v-8.0M565.5 244.4v-6.5M566.5 244.4v-10.7M567.5 244.4v-9.0M570.5 244.4v-7.8M572.5 244.4v-11.5M575.5 244.4v-9.5M576.5 244.4v-6.6M577.5 244.4v-7.9M586.5 244.4v-11.1M587.5 244.4v-10.3M590.5 244.4v-9.2M592.5 244.4v-9.2M594.5 244.4v-5.2M596.5 244.4v-8.4M597.5 244.4v-10.0M599.5 244.4v-9.0M600.5 244.4v-7.6M601.5 244.4v-6.2M602.5 244.4v-5.8M618.5 244.4v-9.9M620.5 244.4v-7.8M622.5 244.4v-9.4M625.5 244.4v-5.8M627.5 244.4v-8.5M630.5 244.4v-8.2M632.5 244.4v-9.6M637.5 244.4v-9.3M639.5 244.4v-8.9M641.5 244.4v-8.9M642.5 244.4v-7.4M653.5 244.4v-6.0M305.5 256.5v-1.5M359.5 256.5v-4.0M363.5 256.5v-8.9M364.5 256.5v-10.6M365.5 256.5v-8.9M367.5 256.5v-9.5M368.5 256.5v-8.0M370.5 256.5v-9.5M371.5 256.5v-8.0M372.5 256.5v-6.5M373.5 256.5v-10.7M374.5 256.5v-9.0M377.5 256.5v-7.8M379.5 256.5v-11.5M382.5 256.5v-9.5M383.5 256.5v-6.6M384.5 256.5v-7.9M394.5 256.5v-11.1M395.5 256.5v-10.3M398.5 256.5v-9.2M400.5 256.5v-9.2M402.5 256.5v-5.2M404.5 256.5v-8.4M405.5 256.5v-10.0M407.5 256.5v-9.0M408.5 256.5v-7.6M409.5 256.5v-6.2M410.5 256.5v-5.8M426.5 256.5v-9.9M428.5 256.5v-7.8M430.5 256.5v-9.4M433.5 256.5v-5.8M435.5 256.5v-8.5M438.5 256.5v-8.2M440.5 256.5v-9.6M445.5 256.5v-9.3M447.5 256.5v-8.9M449.5 256.5v-8.9M450.5 256.5v-7.4M461.5 256.5v-6.0M556.5 256.5v-9.6M558.5 256.5v-7.0M560.5 256.5v-10.3M563.5 256.5v-10.8M564.5 256.5v-10.8M565.5 256.5v-9.2M566.5 256.5v-10.9M567.5 256.5v-8.9M568.5 256.5v-7.4M569.5 256.5v-6.0M570.5 256.5v-8.8M571.5 256.5v-10.5M574.5 256.5v-9.4M575.5 256.5v-5.9M583.5 256.5v-7.9M584.5 256.5v-9.4M586.5 256.5v-6.4M587.5 256.5v-9.0M588.5 256.5v-7.5M589.5 256.5v-9.4M591.5 256.5v-9.7M592.5 256.5v-7.8M593.5 256.5v-9.3M595.5 256.5v-8.0M596.5 256.5v-6.7M597.5 256.5v-5.4M600.5 256.5v-5.6M601.5 256.5v-6.9M602.5 256.5v-8.2M603.5 256.5v-5.8M618.5 256.5v-8.5M619.5 256.5v-7.2M620.5 256.5v-5.8M622.5 256.5v-8.3M624.5 256.5v-8.0M629.5 256.5v-9.9M636.5 256.5v-6.7M640.5 256.5v-7.1M641.5 256.5v-6.0M642.5 256.5v-4.8M645.5 256.5v-8.1M647.5 256.5v-8.1M649.5 256.5v-7.0M363.5 268.5v-9.6M365.5 268.5v-7.0M367.5 268.5v-10.3M370.5 268.5v-10.8M371.5 268.5v-10.8M372.5 268.5v-9.2M373.5 268.5v-10.9M374.5 268.5v-8.9M375.5 268.5v-7.4M376.5 268.5v-6.0M377.5 268.5v-8.8M378.5 268.5v-10.5M381.5 268.5v-9.4M382.5 268.5v-5.9M391.5 268.5v-7.9M392.5 268.5v-9.4M394.5 268.5v-6.4M395.5 268.5v-9.0M396.5 268.5v-7.5M397.5 268.5v-9.4M399.5 268.5v-9.7M400.5 268.5v-7.8M401.5 268.5v-9.3M403.5 268.5v-8.0M404.5 268.5v-6.7M405.5 268.5v-5.4M408.5 268.5v-5.6M409.5 268.5v-6.9M410.5 268.5v-8.2M411.5 268.5v-5.8M426.5 268.5v-8.5M427.5 268.5v-7.2M428.5 268.5v-5.8M430.5 268.5v-8.3M432.5 268.5v-8.0M437.5 268.5v-9.9M443.5 268.5v-6.7M447.5 268.5v-7.1M448.5 268.5v-6.0M449.5 268.5v-4.8M452.5 268.5v-8.1M454.5 268.5v-8.1M456.5 268.5v-7.0M554.5 268.5v-9.0M556.5 268.5v-11.0M558.5 268.5v-11.3M559.5 268.5v-10.9M561.5 268.5v-7.4M563.5 268.5v-9.3M564.5 268.5v-11.0M565.5 268.5v-9.4M566.5 268.5v-7.9M567.5 268.5v-11.4M570.5 268.5v-9.8M573.5 268.5v-9.7M574.5 268.5v-11.6M578.5 268.5v-8.3M579.5 268.5v-7.0M584.5 268.5v-9.0M585.5 268.5v-7.6M587.5 268.5v-8.9M588.5 268.5v-10.6M590.5 268.5v-7.1M591.5 268.5v-8.7M592.5 268.5v-10.4M593.5 268.5v-8.7M594.5 268.5v-7.3M596.5 268.5v-10.7M597.5 268.5v-10.9M600.5 268.5v-9.0M601.5 268.5v-7.5M621.5 268.5v-8.2M624.5 268.5v-9.9M627.5 268.5v-9.0M630.5 268.5v-9.4M645.5 268.5v-7.4M647.5 268.5v-8.0M660.5 268.5v-2.0M680.5 268.5v-2.0M362.5 280.6v-9.0M364.5 280.6v-11.0M366.5 280.6v-11.3M367.5 280.6v-10.9M369.5 280.6v-7.4M371.5 280.6v-9.3M372.5 280.6v-11.0M373.5 280.6v-9.4M374.5 280.6v-7.9M375.5 280.6v-11.4M378.5 280.6v-9.8M381.5 280.6v-9.7M382.5 280.6v-11.6M386.5 280.6v-8.3M387.5 280.6v-7.0M392.5 280.6v-9.0M393.5 280.6v-7.6M395.5 280.6v-8.9M396.5 280.6v-10.6M398.5 280.6v-7.1M399.5 280.6v-8.7M400.5 280.6v-10.4M401.5 280.6v-8.7M402.5 280.6v-7.3M404.5 280.6v-10.7M405.5 280.6v-10.9M408.5 280.6v-9.0M409.5 280.6v-7.5M429.5 280.6v-8.2M432.5 280.6v-9.9M435.5 280.6v-9.0M438.5 280.6v-9.4M453.5 280.6v-7.4M455.5 280.6v-8.0M468.5 280.6v-2.0M487.5 280.6v-2.0M556.5 280.6v-10.3M558.5 280.6v-10.8M559.5 280.6v-9.0M560.5 280.6v-7.7M562.5 280.6v-11.3M564.5 280.6v-11.5M565.5 280.6v-8.3M566.5 280.6v-9.9M567.5 280.6v-11.3M569.5 280.6v-7.7M570.5 280.6v-9.2M571.5 280.6v-9.3M572.5 280.6v-11.1M574.5 280.6v-8.7M575.5 280.6v-10.4M576.5 280.6v-9.2M578.5 280.6v-9.1M579.5 280.6v-11.1M580.5 280.6v-8.7M581.5 280.6v-10.3M582.5 280.6v-8.7M585.5 280.6v-9.2M586.5 280.6v-8.6M593.5 280.6v-6.3M594.5 280.6v-5.3M596.5 280.6v-5.9M616.5 280.6v-8.4M618.5 280.6v-7.8M620.5 280.6v-7.3M621.5 280.6v-6.1M633.5 280.6v-9.3M635.5 280.6v-7.9M640.5 280.6v-8.5M643.5 280.6v-8.3M644.5 280.6v-9.9M657.5 280.6v-4.0M364.5 292.6v-10.3M366.5 292.6v-10.8M367.5 292.6v-9.0M368.5 292.6v-7.7M370.5 292.6v-11.3M372.5 292.6v-11.5M373.5 292.6v-8.3M374.5 292.6v-9.9M375.5 292.6v-11.3M377.5 292.6v-7.7M378.5 292.6v-9.2M379.5 292.6v-9.3M380.5 292.6v-11.1M382.5 292.6v-8.7M383.5 292.6v-10.4M384.5 292.6v-9.2M386.5 292.6v-9.1M387.5 292.6v-11.1M388.5 292.6v-8.7M389.5 292.6v-10.3M390.5 292.6v-8.7M393.5 292.6v-9.2M394.5 292.6v-8.6M401.5 292.6v-6.3M402.5 292.6v-5.3M404.5 292.6v-5.9M424.5 292.6v-8.4M426.5 292.6v-7.8M428.5 292.6v-7.3M429.5 292.6v-6.1M441.5 292.6v-9.3M443.5 292.6v-7.9M448.5 292.6v-8.5M451.5 292.6v-8.3M452.5 292.6v-9.9M465.5 292.6v-4.0M532.5 292.6v-1.5M555.5 292.6v-10.0M558.5 292.6v-10.7M561.5 292.6v-9.9M563.5 292.6v-6.8M564.5 292.6v-5.2M566.5 292.6v-11.2M568.5 292.6v-7.2M569.5 292.6v-8.9M570.5 292.6v-10.6M571.5 292.6v-10.5M572.5 292.6v-8.9M573.5 292.6v-7.2M574.5 292.6v-10.3M578.5 292.6v-7.8M579.5 292.6v-9.6M580.5 292.6v-11.4M581.5 292.6v-9.6M582.5 292.6v-7.9M588.5 292.6v-8.4M590.5 292.6v-8.0M591.5 292.6v-6.7M592.5 292.6v-5.4M594.5 292.6v-8.3M595.5 292.6v-6.9M597.5 292.6v-8.0M607.5 292.6v-5.9M608.5 292.6v-5.0M615.5 292.6v-9.3M617.5 292.6v-8.7M619.5 292.6v-9.5M621.5 292.6v-7.0M622.5 292.6v-8.3M630.5 292.6v-7.9M631.5 292.6v-6.7M634.5 292.6v-8.5M637.5 292.6v-8.5M638.5 292.6v-7.1M640.5 292.6v-5.9M652.5 292.6v-6.0M339.5 304.7v-1.5M363.5 304.7v-10.0M366.5 304.7v-10.7M369.5 304.7v-9.9M371.5 304.7v-6.8M372.5 304.7v-5.2M374.5 304.7v-11.2M376.5 304.7v-7.2M377.5 304.7v-8.9M378.5 304.7v-10.6M379.5 304.7v-10.5M380.5 304.7v-8.9M381.5 304.7v-7.2M382.5 304.7v-10.3M386.5 304.7v-7.8M387.5 304.7v-9.6M388.5 304.7v-11.4M389.5 304.7v-9.6M390.5 304.7v-7.9M395.5 304.7v-8.4M397.5 304.7v-8.0M398.5 304.7v-6.7M399.5 304.7v-5.4M401.5 304.7v-8.3M402.5 304.7v-6.9M404.5 304.7v-8.0M415.5 304.7v-5.9M416.5 304.7v-5.0M423.5 304.7v-9.3M425.5 304.7v-8.7M427.5 304.7v-9.5M429.5 304.7v-7.0M430.5 304.7v-8.3M438.5 304.7v-7.9M439.5 304.7v-6.7M442.5 304.7v-8.5M445.5 304.7v-8.5M446.5 304.7v-7.1M448.5 304.7v-5.9M459.5 304.7v-6.0M497.5 304.7v-1.5M555.5 304.7v-9.1M556.5 304.7v-10.8M559.5 304.7v-9.9M561.5 304.7v-9.6M562.5 304.7v-8.1M563.5 304.7v-6.6M565.5 304.7v-8.0M566.5 304.7v-9.5M567.5 304.7v-8.0M569.5 304.7v-10.6M573.5 304.7v-8.8M574.5 304.7v-10.5M575.5 304.7v-6.4M576.5 304.7v-7.9M577.5 304.7v-9.4M579.5 304.7v-11.6M580.5 304.7v-10.4M583.5 304.7v-9.3M584.5 304.7v-11.0M585.5 304.7v-11.5M587.5 304.7v-9.9M588.5 304.7v-8.3M590.5 304.7v-10.1M592.5 304.7v-10.0M594.5 304.7v-6.8M596.5 304.7v-9.7M599.5 304.7v-6.6M600.5 304.7v-7.9M608.5 304.7v-6.8M609.5 304.7v-5.7M623.5 304.7v-8.7M624.5 304.7v-7.3M626.5 304.7v-8.3M630.5 304.7v-7.7M680.5 304.7v-8.0M305.5 316.7v-1.5M363.5 316.7v-9.1M364.5 316.7v-10.8M367.5 316.7v-9.9M369.5 316.7v-9.6M370.5 316.7v-8.1M371.5 316.7v-6.6M373.5 316.7v-8.0M374.5 316.7v-9.5M375.5 316.7v-8.0M377.5 316.7v-10.6M381.5 316.7v-8.8M382.5 316.7v-10.5M383.5 316.7v-6.4M384.5 316.7v-7.9M385.5 316.7v-9.4M387.5 316.7v-11.6M388.5 316.7v-10.4M391.5 316.7v-9.3M392.5 316.7v-11.0M393.5 316.7v-11.5M395.5 316.7v-9.9M396.5 316.7v-8.3M398.5 316.7v-10.1M400.5 316.7v-10.0M402.5 316.7v-6.8M404.5 316.7v-9.7M407.5 316.7v-6.6M408.5 316.7v-7.9M416.5 316.7v-6.8M417.5 316.7v-5.7M431.5 316.7v-8.7M432.5 316.7v-7.3M434.5 316.7v-8.3M438.5 316.7v-7.7M487.5 316.7v-8.0M555.5 316.7v-10.2M557.5 316.7v-7.7M558.5 316.7v-9.2M560.5 316.7v-10.0M561.5 316.7v-8.4M563.5 316.7v-9.2M566.5 316.7v-10.6M568.5 316.7v-9.2M570.5 316.7v-11.4M573.5 316.7v-9.4M576.5 316.7v-8.0M580.5 316.7v-9.7M582.5 316.7v-8.2M583.5 316.7v-9.8M585.5 316.7v-9.2M588.5 316.7v-9.3M589.5 316.7v-9.6M593.5 316.7v-8.1M594.5 316.7v-9.6M596.5 316.7v-7.9M597.5 316.7v-6.6M599.5 316.7v-5.5M600.5 316.7v-6.8M601.5 316.7v-8.1M602.5 316.7v-5.2M607.5 316.7v-6.7M609.5 316.7v-6.6M610.5 316.7v-7.8M632.5 316.7v-9.7M633.5 316.7v-8.2M636.5 316.7v-9.4M639.5 316.7v-10.2M641.5 316.7v-9.0M643.5 316.7v-10.3M644.5 316.7v-8.6M647.5 316.7v-7.7M650.5 316.7v-4.0M363.5 328.8v-10.2M365.5 328.8v-7.7M366.5 328.8v-9.2M368.5 328.8v-10.0M369.5 328.8v-8.4M371.5 328.8v-9.2M374.5 328.8v-10.6M376.5 328.8v-9.2M378.5 328.8v-11.4M381.5 328.8v-9.4M384.5 328.8v-8.0M388.5 328.8v-9.7M390.5 328.8v-8.2M391.5 328.8v-9.8M393.5 328.8v-9.2M396.5 328.8v-9.3M397.5 328.8v-9.6M401.5 328.8v-8.1M402.5 328.8v-9.6M404.5 328.8v-7.9M405.5 328.8v-6.6M407.5 328.8v-5.5M408.5 328.8v-6.8M409.5 328.8v-8.1M410.5 328.8v-5.2M415.5 328.8v-6.7M417.5 328.8v-6.6M418.5 328.8v-7.8M439.5 328.8v-9.7M440.5 328.8v-8.2M443.5 328.8v-9.4M446.5 328.8v-10.2M448.5 328.8v-9.0M450.5 328.8v-10.3M451.5 328.8v-8.6M454.5 328.8v-7.7M458.5 328.8v-4.0M554.5 328.8v-9.1M556.5 328.8v-6.5M558.5 328.8v-9.6M559.5 328.8v-8.1M561.5 328.8v-7.7M562.5 328.8v-9.2M563.5 328.8v-7.7M564.5 328.8v-6.3M567.5 328.8v-11.6M570.5 328.8v-9.2M571.5 328.8v-10.9M572.5 328.8v-4.7M573.5 328.8v-6.1M575.5 328.8v-9.0M577.5 328.8v-10.1M578.5 328.8v-9.4M579.5 328.8v-7.9M585.5 328.8v-10.2M587.5 328.8v-9.4M589.5 328.8v-8.7M590.5 328.8v-10.4M592.5 328.8v-9.9M596.5 328.8v-7.7M597.5 328.8v-9.5M598.5 328.8v-11.3M600.5 328.8v-9.0M601.5 328.8v-10.7M602.5 328.8v-10.9M603.5 328.8v-11.3M604.5 328.8v-9.5M606.5 328.8v-9.2M607.5 328.8v-11.0M610.5 328.8v-9.1M611.5 328.8v-10.8M613.5 328.8v-9.9M614.5 328.8v-8.3M632.5 328.8v-9.9M633.5 328.8v-8.3M634.5 328.8v-6.7M636.5 328.8v-8.6M637.5 328.8v-7.2M639.5 328.8v-8.7M641.5 328.8v-8.3M642.5 328.8v-6.9M665.5 328.8v-5.0" stroke="#000" stroke-width="1" fill="none"/>
<line x1="489.6" y1="27.5" x2="489.6" y2="328.75" stroke="#333" stroke-width="0.6"/>
<rect x="297.4" y="27.5" width="384.4" height="301.2" fill="none" stroke="#555" stroke-width="0.8"/>
<text x="294.3" y="30.1" font-size="5.4" text-anchor="end" fill="#2a2a3a" stroke="#2a2a3a" stroke-width="0.18" textLength="15.8" lengthAdjust="spacingAndGlyphs">10-02-21</text>
<text x="294.3" y="42.1" font-size="5.4" text-anchor="end" fill="#2a2a3a" stroke="#2a2a3a" stroke-width="0.18" textLength="15.8" lengthAdjust="spacingAndGlyphs">11-02-21</text>
<text x="294.3" y="54.2" font-size="5.4" text-anchor="end" fill="#2a2a3a" stroke="#2a2a3a" stroke-width="0.18" textLength="15.8" lengthAdjust="spacingAndGlyphs">12-02-21</text>
<text x="294.3" y="66.2" font-size="5.4" text-anchor="end" fill="#2a2a3a" stroke="#2a2a3a" stroke-width="0.18" textLength="15.8" lengthAdjust="spacingAndGlyphs">13-02-21</text>
<text x="294.3" y="78.3" font-size="5.4" text-anchor="end" fill="#2a2a3a" stroke="#2a2a3a" stroke-width="0.18" textLength="15.8" lengthAdjust="spacingAndGlyphs">14-02-21</text>
<text x="294.3" y="90.3" font-size="5.4" text-anchor="end" fill="#2a2a3a" stroke="#2a2a3a" stroke-width="0.18" textLength="15.8" lengthAdjust="spacingAndGlyphs">15-02-21</text>
<text x="294.3" y="102.4" font-size="5.4" text-anchor="end" fill="#2a2a3a" stroke="#2a2a3a" stroke-width="0.18" textLength="15.8" lengthAdjust="spacingAndGlyphs">16-02-21</text>
<text x="294.3" y="114.5" font-size="5.4" text-anchor="end" fill="#2a2a3a" stroke="#2a2a3a" stroke-width="0.18" textLength="15.8" lengthAdjust="spacingAndGlyphs">17-02-21</text>
<text x="294.3" y="126.5" font-size="5.4" text-anchor="end" fill="#2a2a3a" stroke="#2a2a3a" stroke-width="0.18" textLength="15.8" lengthAdjust="spacingAndGlyphs">18-02-21</text>
<text x="294.3" y="138.5" font-size="5.4" text-anchor="end" fill="#2a2a3a" stroke="#2a2a3a" stroke-width="0.18" textLength="15.8" lengthAdjust="spacingAndGlyphs">19-02-21</text>
<text x="294.3" y="150.6" font-size="5.4" text-anchor="end" fill="#2a2a3a" stroke="#2a2a3a" stroke-width="0.18" textLength="15.8" lengthAdjust="spacingAndGlyphs">20-02-21</text>
<text x="294.3" y="162.7" font-size="5.4" text-anchor="end" fill="#2a2a3a" stroke="#2a2a3a" stroke-width="0.18" textLength="15.8" lengthAdjust="spacingAndGlyphs">21-02-21</text>
<text x="294.3" y="174.7" font-size="5.4" text-anchor="end" fill="#2a2a3a" stroke="#2a2a3a" stroke-width="0.18" textLength="15.8" lengthAdjust="spacingAndGlyphs">22-02-21</text>
<text x="294.3" y="186.8" font-size="5.4" text-anchor="end" fill="#2a2a3a" stroke="#2a2a3a" stroke-width="0.18" textLength="15.8" lengthAdjust="spacingAndGlyphs">23-02-21</text>
<text x="294.3" y="198.8" font-size="5.4" text-anchor="end" fill="#2a2a3a" stroke="#2a2a3a" stroke-width="0.18" textLength="15.8" lengthAdjust="spacingAndGlyphs">24-02-21</text>
<text x="294.3" y="210.8" font-size="5.4" text-anchor="end" fill="#2a2a3a" stroke="#2a2a3a" stroke-width="0.18" textLength="15.8" lengthAdjust="spacingAndGlyphs">25-02-21</text>
<text x="294.3" y="222.9" font-size="5.4" text-anchor="end" fill="#2a2a3a" stroke="#2a2a3a" stroke-width="0.18" textLength="15.8" lengthAdjust="spacingAndGlyphs">26-02-21</text>
<text x="294.3" y="235.0" font-size="5.4" text-anchor="end" fill="#2a2a3a" stroke="#2a2a3a" stroke-width="0.18" textLength="15.8" lengthAdjust="spacingAndGlyphs">27-02-21</text>
<text x="294.3" y="247.0" font-size="5.4" text-anchor="end" fill="#2a2a3a" stroke="#2a2a3a" stroke-width="0.18" textLength="15.8" lengthAdjust="spacingAndGlyphs">28-02-21</text>
<text x="294.3" y="259.1" font-size="5.4" text-anchor="end" fill="#2a2a3a" stroke="#2a2a3a" stroke-width="0.18" textLength="15.8" lengthAdjust="spacingAndGlyphs">01-03-21</text>
<text x="294.3" y="271.1" font-size="5.4" text-anchor="end" fill="#2a2a3a" stroke="#2a2a3a" stroke-width="0.18" textLength="15.8" lengthAdjust="spacingAndGlyphs">02-03-21</text>
<text x="294.3" y="283.2" font-size="5.4" text-anchor="end" fill="#2a2a3a" stroke="#2a2a3a" stroke-width="0.18" textLength="15.8" lengthAdjust="spacingAndGlyphs">03-03-21</text>
<text x="294.3" y="295.2" font-size="5.4" text-anchor="end" fill="#2a2a3a" stroke="#2a2a3a" stroke-width="0.18" textLength="15.8" lengthAdjust="spacingAndGlyphs">04-03-21</text>
<text x="294.3" y="307.3" font-size="5.4" text-anchor="end" fill="#2a2a3a" stroke="#2a2a3a" stroke-width="0.18" textLength="15.8" lengthAdjust="spacingAndGlyphs">05-03-21</text>
<text x="294.3" y="319.3" font-size="5.4" text-anchor="end" fill="#2a2a3a" stroke="#2a2a3a" stroke-width="0.18" textLength="15.8" lengthAdjust="spacingAndGlyphs">06-03-21</text>
<text x="294.3" y="331.4" font-size="5.4" text-anchor="end" fill="#2a2a3a" stroke="#2a2a3a" stroke-width="0.18" textLength="15.8" lengthAdjust="spacingAndGlyphs">07-03-21</text>
<text x="297.4" y="336.8" font-size="4.9" text-anchor="middle" fill="#2a2a3a" stroke="#2a2a3a" stroke-width="0.12" textLength="2.3" lengthAdjust="spacingAndGlyphs">0</text>
<text x="305.4" y="336.8" font-size="4.9" text-anchor="middle" fill="#2a2a3a" stroke="#2a2a3a" stroke-width="0.12" textLength="2.3" lengthAdjust="spacingAndGlyphs">1</text>
<text x="313.4" y="336.8" font-size="4.9" text-anchor="middle" fill="#2a2a3a" stroke="#2a2a3a" stroke-width="0.12" textLength="2.3" lengthAdjust="spacingAndGlyphs">2</text>
<text x="321.4" y="336.8" font-size="4.9" text-anchor="middle" fill="#2a2a3a" stroke="#2a2a3a" stroke-width="0.12" textLength="2.3" lengthAdjust="spacingAndGlyphs">3</text>
<text x="329.4" y="336.8" font-size="4.9" text-anchor="middle" fill="#2a2a3a" stroke="#2a2a3a" stroke-width="0.12" textLength="2.3" lengthAdjust="spacingAndGlyphs">4</text>
<text x="337.4" y="336.8" font-size="4.9" text-anchor="middle" fill="#2a2a3a" stroke="#2a2a3a" stroke-width="0.12" textLength="2.3" lengthAdjust="spacingAndGlyphs">5</text>
<text x="345.4" y="336.8" font-size="4.9" text-anchor="middle" fill="#2a2a3a" stroke="#2a2a3a" stroke-width="0.12" textLength="2.3" lengthAdjust="spacingAndGlyphs">6</text>
<text x="353.5" y="336.8" font-size="4.9" text-anchor="middle" fill="#2a2a3a" stroke="#2a2a3a" stroke-width="0.12" textLength="2.3" lengthAdjust="spacingAndGlyphs">7</text>
<text x="361.5" y="336.8" font-size="4.9" text-anchor="middle" fill="#2a2a3a" stroke="#2a2a3a" stroke-width="0.12" textLength="2.3" lengthAdjust="spacingAndGlyphs">8</text>
<text x="369.5" y="336.8" font-size="4.9" text-anchor="middle" fill="#2a2a3a" stroke="#2a2a3a" stroke-width="0.12" textLength="2.3" lengthAdjust="spacingAndGlyphs">9</text>
<text x="377.5" y="336.8" font-size="4.9" text-anchor="middle" fill="#2a2a3a" stroke="#2a2a3a" stroke-width="0.12" textLength="4.6" lengthAdjust="spacingAndGlyphs">10</text>
<text x="385.5" y="336.8" font-size="4.9" text-anchor="middle" fill="#2a2a3a" stroke="#2a2a3a" stroke-width="0.12" textLength="4.6" lengthAdjust="spacingAndGlyphs">11</text>
<text x="393.5" y="336.8" font-size="4.9" text-anchor="middle" fill="#2a2a3a" stroke="#2a2a3a" stroke-width="0.12" textLength="4.6" lengthAdjust="spacingAndGlyphs">12</text>
<text x="401.5" y="336.8" font-size="4.9" text-anchor="middle" fill="#2a2a3a" stroke="#2a2a3a" stroke-width="0.12" textLength="4.6" lengthAdjust="spacingAndGlyphs">13</text>
<text x="409.5" y="336.8" font-size="4.9" text-anchor="middle" fill="#2a2a3a" stroke="#2a2a3a" stroke-width="0.12" textLength="4.6" lengthAdjust="spacingAndGlyphs">14</text>
<text x="417.5" y="336.8" font-size="4.9" text-anchor="middle" fill="#2a2a3a" stroke="#2a2a3a" stroke-width="0.12" textLength="4.6" lengthAdjust="spacingAndGlyphs">15</text>
<text x="425.5" y="336.8" font-size="4.9" text-anchor="middle" fill="#2a2a3a" stroke="#2a2a3a" stroke-width="0.12" textLength="4.6" lengthAdjust="spacingAndGlyphs">16</text>
<text x="433.5" y="336.8" font-size="4.9" text-anchor="middle" fill="#2a2a3a" stroke="#2a2a3a" stroke-width="0.12" textLength="4.6" lengthAdjust="spacingAndGlyphs">17</text>
<text x="441.5" y="336.8" font-size="4.9" text-anchor="middle" fill="#2a2a3a" stroke="#2a2a3a" stroke-width="0.12" textLength="4.6" lengthAdjust="spacingAndGlyphs">18</text>
<text x="449.6" y="336.8" font-size="4.9" text-anchor="middle" fill="#2a2a3a" stroke="#2a2a3a" stroke-width="0.12" textLength="4.6" lengthAdjust="spacingAndGlyphs">19</text>
<text x="457.6" y="336.8" font-size="4.9" text-anchor="middle" fill="#2a2a3a" stroke="#2a2a3a" stroke-width="0.12" textLength="4.6" lengthAdjust="spacingAndGlyphs">20</text>
<text x="465.6" y="336.8" font-size="4.9" text-anchor="middle" fill="#2a2a3a" stroke="#2a2a3a" stroke-width="0.12" textLength="4.6" lengthAdjust="spacingAndGlyphs">21</text>
<text x="473.6" y="336.8" font-size="4.9" text-anchor="middle" fill="#2a2a3a" stroke="#2a2a3a" stroke-width="0.12" textLength="4.6" lengthAdjust="spacingAndGlyphs">22</text>
<text x="481.6" y="336.8" font-size="4.9" text-anchor="middle" fill="#2a2a3a" stroke="#2a2a3a" stroke-width="0.12" textLength="4.6" lengthAdjust="spacingAndGlyphs">23</text>
<text x="489.6" y="336.8" font-size="4.9" text-anchor="middle" fill="#2a2a3a" stroke="#2a2a3a" stroke-width="0.12" textLength="4.6" lengthAdjust="spacingAndGlyphs">24</text>
<text x="497.6" y="336.8" font-size="4.9" text-anchor="middle" fill="#2a2a3a" stroke="#2a2a3a" stroke-width="0.12" textLength="4.6" lengthAdjust="spacingAndGlyphs">25</text>
<text x="505.6" y="336.8" font-size="4.9" text-anchor="middle" fill="#2a2a3a" stroke="#2a2a3a" stroke-width="0.12" textLength="4.6" lengthAdjust="spacingAndGlyphs">26</text>
<text x="513.6" y="336.8" font-size="4.9" text-anchor="middle" fill="#2a2a3a" stroke="#2a2a3a" stroke-width="0.12" textLength="4.6" lengthAdjust="spacingAndGlyphs">27</text>
<text x="521.6" y="336.8" font-size="4.9" text-anchor="middle" fill="#2a2a3a" stroke="#2a2a3a" stroke-width="0.12" textLength="4.6" lengthAdjust="spacingAndGlyphs">28</text>
<text x="529.6" y="336.8" font-size="4.9" text-anchor="middle" fill="#2a2a3a" stroke="#2a2a3a" stroke-width="0.12" textLength="4.6" lengthAdjust="spacingAndGlyphs">29</text>
<text x="537.6" y="336.8" font-size="4.9" text-anchor="middle" fill="#2a2a3a" stroke="#2a2a3a" stroke-width="0.12" textLength="4.6" lengthAdjust="spacingAndGlyphs">30</text>
<text x="545.7" y="336.8" font-size="4.9" text-anchor="middle" fill="#2a2a3a" stroke="#2a2a3a" stroke-width="0.12" textLength="4.6" lengthAdjust="spacingAndGlyphs">31</text>
<text x="553.7" y="336.8" font-size="4.9" text-anchor="middle" fill="#2a2a3a" stroke="#2a2a3a" stroke-width="0.12" textLength="4.6" lengthAdjust="spacingAndGlyphs">32</text>
<text x="561.7" y="336.8" font-size="4.9" text-anchor="middle" fill="#2a2a3a" stroke="#2a2a3a" stroke-width="0.12" textLength="4.6" lengthAdjust="spacingAndGlyphs">33</text>
<text x="569.7" y="336.8" font-size="4.9" text-anchor="middle" fill="#2a2a3a" stroke="#2a2a3a" stroke-width="0.12" textLength="4.6" lengthAdjust="spacingAndGlyphs">34</text>
<text x="577.7" y="336.8" font-size="4.9" text-anchor="middle" fill="#2a2a3a" stroke="#2a2a3a" stroke-width="0.12" textLength="4.6" lengthAdjust="spacingAndGlyphs">35</text>
<text x="585.7" y="336.8" font-size="4.9" text-anchor="middle" fill="#2a2a3a" stroke="#2a2a3a" stroke-width="0.12" textLength="4.6" lengthAdjust="spacingAndGlyphs">36</text>
<text x="593.7" y="336.8" font-size="4.9" text-anchor="middle" fill="#2a2a3a" stroke="#2a2a3a" stroke-width="0.12" textLength="4.6" lengthAdjust="spacingAndGlyphs">37</text>
<text x="601.7" y="336.8" font-size="4.9" text-anchor="middle" fill="#2a2a3a" stroke="#2a2a3a" stroke-width="0.12" textLength="4.6" lengthAdjust="spacingAndGlyphs">38</text>
<text x="609.7" y="336.8" font-size="4.9" text-anchor="middle" fill="#2a2a3a" stroke="#2a2a3a" stroke-width="0.12" textLength="4.6" lengthAdjust="spacingAndGlyphs">39</text>
<text x="617.7" y="336.8" font-size="4.9" text-anchor="middle" fill="#2a2a3a" stroke="#2a2a3a" stroke-width="0.12" textLength="4.6" lengthAdjust="spacingAndGlyphs">40</text>
<text x="625.7" y="336.8" font-size="4.9" text-anchor="middle" fill="#2a2a3a" stroke="#2a2a3a" stroke-width="0.12" textLength="4.6" lengthAdjust="spacingAndGlyphs">41</text>
<text x="633.8" y="336.8" font-size="4.9" text-anchor="middle" fill="#2a2a3a" stroke="#2a2a3a" stroke-width="0.12" textLength="4.6" lengthAdjust="spacingAndGlyphs">42</text>
<text x="641.8" y="336.8" font-size="4.9" text-anchor="middle" fill="#2a2a3a" stroke="#2a2a3a" stroke-width="0.12" textLength="4.6" lengthAdjust="spacingAndGlyphs">43</text>
<text x="649.8" y="336.8" font-size="4.9" text-anchor="middle" fill="#2a2a3a" stroke="#2a2a3a" stroke-width="0.12" textLength="4.6" lengthAdjust="spacingAndGlyphs">44</text>
<text x="657.8" y="336.8" font-size="4.9" text-anchor="middle" fill="#2a2a3a" stroke="#2a2a3a" stroke-width="0.12" textLength="4.6" lengthAdjust="spacingAndGlyphs">45</text>
<text x="665.8" y="336.8" font-size="4.9" text-anchor="middle" fill="#2a2a3a" stroke="#2a2a3a" stroke-width="0.12" textLength="4.6" lengthAdjust="spacingAndGlyphs">46</text>
<text x="673.8" y="336.8" font-size="4.9" text-anchor="middle" fill="#2a2a3a" stroke="#2a2a3a" stroke-width="0.12" textLength="4.6" lengthAdjust="spacingAndGlyphs">47</text>
<text x="681.8" y="336.8" font-size="4.9" text-anchor="middle" fill="#2a2a3a" stroke="#2a2a3a" stroke-width="0.12" textLength="4.6" lengthAdjust="spacingAndGlyphs">48</text>
<path d="M295.1 27.8H297.4M295.1 39.8H297.4M295.1 51.9H297.4M295.1 64.0H297.4M295.1 76.0H297.4M295.1 88.0H297.4M295.1 100.1H297.4M295.1 112.2H297.4M295.1 124.2H297.4M295.1 136.2H297.4M295.1 148.3H297.4M295.1 160.4H297.4M295.1 172.4H297.4M295.1 184.5H297.4M295.1 196.5H297.4M295.1 208.6H297.4M295.1 220.6H297.4M295.1 232.7H297.4M295.1 244.7H297.4M295.1 256.8H297.4M295.1 268.8H297.4M295.1 280.9H297.4M295.1 292.9H297.4M295.1 305.0H297.4M295.1 317.0H297.4M295.1 329.1H297.4M297.4 328.8v2.5M305.4 328.8v2.5M313.4 328.8v2.5M321.4 328.8v2.5M329.4 328.8v2.5M337.4 328.8v2.5M345.4 328.8v2.5M353.5 328.8v2.5M361.5 328.8v2.5M369.5 328.8v2.5M377.5 328.8v2.5M385.5 328.8v2.5M393.5 328.8v2.5M401.5 328.8v2.5M409.5 328.8v2.5M417.5 328.8v2.5M425.5 328.8v2.5M433.5 328.8v2.5M441.5 328.8v2.5M449.6 328.8v2.5M457.6 328.8v2.5M465.6 328.8v2.5M473.6 328.8v2.5M481.6 328.8v2.5M489.6 328.8v2.5M497.6 328.8v2.5M505.6 328.8v2.5M513.6 328.8v2.5M521.6 328.8v2.5M529.6 328.8v2.5M537.6 328.8v2.5M545.7 328.8v2.5M553.7 328.8v2.5M561.7 328.8v2.5M569.7 328.8v2.5M577.7 328.8v2.5M585.7 328.8v2.5M593.7 328.8v2.5M601.7 328.8v2.5M609.7 328.8v2.5M617.7 328.8v2.5M625.7 328.8v2.5M633.8 328.8v2.5M641.8 328.8v2.5M649.8 328.8v2.5M657.8 328.8v2.5M665.8 328.8v2.5M673.8 328.8v2.5M681.8 328.8v2.5" stroke="#444" stroke-width="0.6"/>
<text x="499.2" y="354.5" font-size="15.8" font-weight="normal" text-anchor="middle" fill="#000" >Local Time</text>
<path d="M415.9 129.5L421 125.2L426.1 129.5L421 133.8Z" fill="#f26722" stroke="#111" stroke-width="1.2" stroke-linejoin="miter"/>
<path d="M495.1 135.79999999999998L500 126.6L504.9 135.79999999999998Z" fill="#f26722" stroke="#111" stroke-width="1.2" stroke-linejoin="miter"/>
<path d="M405.1 328.90000000000003L410 319.7L414.9 328.90000000000003Z" fill="#3c7dc6" stroke="#111" stroke-width="1.2" stroke-linejoin="miter"/>
<path d="M503.5 322L508.6 317.6L513.7 322L508.6 326.4Z" fill="#3c7dc6" stroke="#111" stroke-width="1.2" stroke-linejoin="miter"/>
<line x1="410" y1="27.5" x2="410" y2="328.75" stroke="#3c7dc6" stroke-width="3.6"/>
<line x1="421" y1="27.5" x2="421" y2="328.75" stroke="#f26722" stroke-width="4.1"/>
<line x1="500" y1="27.5" x2="500" y2="328.75" stroke="#f26722" stroke-width="4.2" stroke-dasharray="11.5 4.1"/>
<line x1="508.6" y1="27.5" x2="508.6" y2="328.75" stroke="#3c7dc6" stroke-width="4.2" stroke-dasharray="11.5 4.1"/>
</g>
<g id="legend">
<rect x="70" y="262.3" width="188" height="67.4" fill="#fff" stroke="#000" stroke-width="1.1"/>
<line x1="76.5" y1="273.2" x2="126.5" y2="273.2" stroke="#f26722" stroke-width="3.3" stroke-dasharray="3.4 3.1"/>
<path d="M93.0 277.49999999999994L98.8 267.7L104.6 277.49999999999994Z" fill="#f26722" stroke="#111" stroke-width="1.4" stroke-linejoin="miter"/>
<text x="130.3" y="277.59999999999997" font-size="12.75" font-weight="normal" text-anchor="start" fill="#000" >LD Peak Sampling</text>
<line x1="76.5" y1="288.25" x2="126.5" y2="288.25" stroke="#f26722" stroke-width="3.3"/>
<path d="M93.39999999999999 288.25L98.8 283.55L104.2 288.25L98.8 292.95Z" fill="#f26722" stroke="#111" stroke-width="1.4" stroke-linejoin="miter"/>
<text x="130.3" y="292.65" font-size="12.75" font-weight="normal" text-anchor="start" fill="#000" >LD Trough Sampling</text>
<line x1="76.5" y1="303.3" x2="126.5" y2="303.3" stroke="#3c7dc6" stroke-width="3.3"/>
<path d="M93.0 307.59999999999997L98.8 297.8L104.6 307.59999999999997Z" fill="#3c7dc6" stroke="#111" stroke-width="1.4" stroke-linejoin="miter"/>
<text x="130.3" y="307.7" font-size="12.75" font-weight="normal" text-anchor="start" fill="#000" >DL Peak Sampling</text>
<line x1="76.5" y1="318.35" x2="126.5" y2="318.35" stroke="#3c7dc6" stroke-width="3.3" stroke-dasharray="3.4 3.1"/>
<path d="M93.39999999999999 318.35L98.8 313.65000000000003L104.2 318.35L98.8 323.05Z" fill="#3c7dc6" stroke="#111" stroke-width="1.4" stroke-linejoin="miter"/>
<text x="130.3" y="322.75" font-size="12.75" font-weight="normal" text-anchor="start" fill="#000" >DL Trough Sampling</text>
</g>
<g id="panelC">
<rect x="51.6" y="460.5" width="104.5" height="145.7" fill="#fafde0"/>
<rect x="156.1" y="460.5" width="114.1" height="145.7" fill="#d9d9d9"/>
<polygon points="51.6,576.1 89.6,565.4 127.6,560.8 165.7,509.1 165.7,509.1 127.6,582.2 89.6,581.9 51.6,595.5" fill="#cbcbcb" fill-opacity="0.52"/>
<polygon points="51.6,552.4 89.6,589.6 127.6,510.2 165.7,509.1 165.7,509.1 127.6,541.3 89.6,604.2 51.6,573.8" fill="#cbcbcb" fill-opacity="0.52"/>
<polyline points="51.6,585.8 89.6,573.7 127.6,571.5 165.7,509.1 203.7,578.0 270.2,545.3" fill="none" stroke="#222" stroke-width="0.85" stroke-linejoin="round"/>
<polyline points="51.6,563.1 89.6,596.9 127.6,525.8 165.7,509.1 203.7,540.1 270.2,573.7" fill="none" stroke="#5a5af0" stroke-width="0.85" stroke-linejoin="round"/>
<line x1="156.5" y1="460" x2="156.5" y2="606.2" stroke="#000" stroke-width="1.5" stroke-dasharray="1.2 1.2"/>
<line x1="270.5" y1="460" x2="270.5" y2="606.2" stroke="#000" stroke-width="1.5" stroke-dasharray="1.2 1.2"/>
<path d="M51.6 459.7V606.2H271.0" fill="none" stroke="#000" stroke-width="1.6"/>
<text x="45.300000000000004" y="610.2" font-size="11.4" font-weight="bold" text-anchor="end" fill="#000" >0.0</text>
<text x="45.300000000000004" y="561.6" font-size="11.4" font-weight="bold" text-anchor="end" fill="#000" >0.5</text>
<text x="45.300000000000004" y="513.1" font-size="11.4" font-weight="bold" text-anchor="end" fill="#000" >1.0</text>
<text x="45.300000000000004" y="464.5" font-size="11.4" font-weight="bold" text-anchor="end" fill="#000" >1.5</text>
<text x="99.1" y="622.9000000000001" font-size="11.4" font-weight="bold" text-anchor="middle" fill="#000" >6</text>
<text x="156.1" y="622.9000000000001" font-size="11.4" font-weight="bold" text-anchor="middle" fill="#000" >12</text>
<text x="213.2" y="622.9000000000001" font-size="11.4" font-weight="bold" text-anchor="middle" fill="#000" >18</text>
<text x="270.2" y="622.9000000000001" font-size="11.4" font-weight="bold" text-anchor="middle" fill="#000" >24</text>
<path d="M47.0 606.2H51.6M47.0 557.6H51.6M47.0 509.1H51.6M47.0 460.5H51.6M99.1 606.2v4.6M156.1 606.2v4.6M213.2 606.2v4.6M270.2 606.2v4.6" stroke="#000" stroke-width="1.6"/>
<text x="160.9" y="642.6" font-size="12" font-weight="bold" text-anchor="middle" fill="#000" >ZT</text>
<text transform="translate(22,533.5) rotate(-90)" font-size="12.1" font-weight="bold" text-anchor="middle">BLI&#160;&#160;(p/s/m<tspan font-size="7.6" dy="-4">2</tspan><tspan dy="4">)</tspan></text>
<line x1="141.8" y1="428.8" x2="158.8" y2="428.8" stroke="#222" stroke-width="0.85"/>
<text x="166.4" y="433" font-size="11.75" font-weight="normal" text-anchor="start" fill="#000" >Per2-IL1Ra:Luc LD</text>
<line x1="141.8" y1="450" x2="158.8" y2="450" stroke="#5a5af0" stroke-width="0.85"/>
<text x="166.4" y="454.2" font-size="11.75" font-weight="normal" text-anchor="start" fill="#000" >Per2-IL1Ra:Luc DL</text>
</g>
<g id="panelD">
<line x1="394.5" y1="577.1" x2="444" y2="457.9" stroke="#f56a1e" stroke-width="1.75"/>
<line x1="394.5" y1="579.4" x2="444" y2="465.4" stroke="#f56a1e" stroke-width="1.75"/>
<line x1="394.5" y1="586.4" x2="444" y2="545.4" stroke="#f56a1e" stroke-width="1.75"/>
<line x1="394.5" y1="590.8" x2="444" y2="549.8" stroke="#f56a1e" stroke-width="1.75"/>
<line x1="394.5" y1="594.2" x2="444" y2="553.2" stroke="#f56a1e" stroke-width="1.75"/>
<line x1="394.5" y1="596.5" x2="444" y2="555.9" stroke="#f56a1e" stroke-width="1.75"/>
<line x1="394.5" y1="598.6" x2="444" y2="586.3" stroke="#f56a1e" stroke-width="1.75"/>
<path d="M391.9 574.5h5.2v5.2h-5.2ZM441.4 455.3h5.2v5.2h-5.2ZM391.9 576.8h5.2v5.2h-5.2ZM441.4 462.8h5.2v5.2h-5.2ZM391.9 583.8h5.2v5.2h-5.2ZM441.4 542.8h5.2v5.2h-5.2ZM391.9 588.2h5.2v5.2h-5.2ZM441.4 547.2h5.2v5.2h-5.2ZM391.9 591.6h5.2v5.2h-5.2ZM441.4 550.6h5.2v5.2h-5.2ZM391.9 593.9h5.2v5.2h-5.2ZM441.4 553.3h5.2v5.2h-5.2ZM391.9 596.0h5.2v5.2h-5.2ZM441.4 583.7h5.2v5.2h-5.2Z" fill="#f56a1e"/>
<path d="M362 433.04999999999995V605.1H478" fill="none" stroke="#000" stroke-width="1.7"/>
<text x="351.5" y="609.7" font-size="13.1" font-weight="bold" text-anchor="end" fill="#000" >0</text>
<text x="351.5" y="566.9" font-size="13.1" font-weight="bold" text-anchor="end" fill="#000" >500</text>
<text x="351.5" y="524.1" font-size="13.1" font-weight="bold" text-anchor="end" fill="#000" >1000</text>
<text x="351.5" y="481.3" font-size="13.1" font-weight="bold" text-anchor="end" fill="#000" >1500</text>
<text x="351.5" y="438.5" font-size="13.1" font-weight="bold" text-anchor="end" fill="#000" >2000</text>
<text x="394.5" y="626.0" font-size="13.1" font-weight="bold" text-anchor="middle" fill="#000" >ZT 9</text>
<text x="444" y="626.0" font-size="13.1" font-weight="bold" text-anchor="middle" fill="#000" >ZT 17</text>
<path d="M353.5 605.1H362M353.5 562.3H362M353.5 519.5H362M353.5 476.7H362M353.5 433.9H362M394.5 605.1v6.5M444 605.1v6.5" stroke="#000" stroke-width="1.7"/>
<text x="419.8" y="388.6" font-size="14.2" font-weight="normal" text-anchor="middle" fill="#000" >Light/Dark</text>
<text x="419.8" y="412.6" font-size="15.5" font-weight="normal" text-anchor="middle" fill="#000" >*</text>
<path d="M391.6 441.8V421.1H449.2V441.8M381.9 441.8H401.3M439.1 441.8H458.9" fill="none" stroke="#000" stroke-width="1.6"/>
<text transform="translate(316.2,519.5) rotate(-90)" font-size="14.15" font-weight="bold" text-anchor="middle">IL1Ra Concentration (pg/mL)</text>
<path d="M389.0 635.2L395.5 629.6L402.0 635.2L395.5 640.8000000000001Z" fill="#ea7b33" stroke="#111" stroke-width="1.2" stroke-linejoin="miter"/>
<path d="M437.4 640.6L444 629.1999999999999L450.6 640.6Z" fill="#ea7b33" stroke="#111" stroke-width="1.2" stroke-linejoin="miter"/>
</g>
<g id="panelE">
<line x1="587" y1="497.2" x2="636.5" y2="455.4" stroke="#2424f0" stroke-width="1.75"/>
<line x1="587" y1="543.9" x2="636.5" y2="504.7" stroke="#2424f0" stroke-width="1.75"/>
<line x1="587" y1="570.3" x2="636.5" y2="541.4" stroke="#2424f0" stroke-width="1.75"/>
<line x1="587" y1="579.5" x2="636.5" y2="525.9" stroke="#2424f0" stroke-width="1.75"/>
<line x1="587" y1="584.0" x2="636.5" y2="536.9" stroke="#2424f0" stroke-width="1.75"/>
<line x1="587" y1="588.1" x2="636.5" y2="582.9" stroke="#2424f0" stroke-width="1.75"/>
<line x1="587" y1="596.7" x2="636.5" y2="582.5" stroke="#2424f0" stroke-width="1.75"/>
<path d="M584.4 494.6h5.2v5.2h-5.2ZM633.9 452.8h5.2v5.2h-5.2ZM584.4 541.3h5.2v5.2h-5.2ZM633.9 502.1h5.2v5.2h-5.2ZM584.4 567.7h5.2v5.2h-5.2ZM633.9 538.8h5.2v5.2h-5.2ZM584.4 576.9h5.2v5.2h-5.2ZM633.9 523.3h5.2v5.2h-5.2ZM584.4 581.4h5.2v5.2h-5.2ZM633.9 534.3h5.2v5.2h-5.2ZM584.4 585.5h5.2v5.2h-5.2ZM633.9 580.3h5.2v5.2h-5.2ZM584.4 594.1h5.2v5.2h-5.2ZM633.9 579.9h5.2v5.2h-5.2Z" fill="#2424f0"/>
<path d="M555.2 433.75V606.1H669.6" fill="none" stroke="#000" stroke-width="1.7"/>
<text x="544.7" y="610.7" font-size="13.1" font-weight="bold" text-anchor="end" fill="#000" >0</text>
<text x="544.7" y="567.8" font-size="13.1" font-weight="bold" text-anchor="end" fill="#000" >200</text>
<text x="544.7" y="525.0" font-size="13.1" font-weight="bold" text-anchor="end" fill="#000" >400</text>
<text x="544.7" y="482.1" font-size="13.1" font-weight="bold" text-anchor="end" fill="#000" >600</text>
<text x="544.7" y="439.2" font-size="13.1" font-weight="bold" text-anchor="end" fill="#000" >800</text>
<text x="587" y="627.0" font-size="13.1" font-weight="bold" text-anchor="middle" fill="#000" >ZT 9</text>
<text x="636.5" y="627.0" font-size="13.1" font-weight="bold" text-anchor="middle" fill="#000" >ZT 17</text>
<path d="M546.7 606.1H555.2M546.7 563.2H555.2M546.7 520.4H555.2M546.7 477.5H555.2M546.7 434.6H555.2M587 606.1v6.5M636.5 606.1v6.5" stroke="#000" stroke-width="1.7"/>
<text x="608.2" y="389.6" font-size="14.2" font-weight="normal" text-anchor="middle" fill="#000" >Dark/Light</text>
<text x="608.2" y="414.4" font-size="15.5" font-weight="normal" text-anchor="middle" fill="#000" >*</text>
<path d="M579.4 443V422.3H637.5V443M569.5 443H589.3M627.6 443H647.4" fill="none" stroke="#000" stroke-width="1.6"/>
<text transform="translate(509.4,520.5) rotate(-90)" font-size="14.15" font-weight="bold" text-anchor="middle">IL1Ra Concentration (pg/mL)</text>
<path d="M580.9 635.2L587.4 629.6L593.9 635.2L587.4 640.8000000000001Z" fill="#4a7fd0" stroke="#111" stroke-width="1.2" stroke-linejoin="miter"/>
<path d="M629.1999999999999 640.6L635.8 629.1999999999999L642.4 640.6Z" fill="#4a7fd0" stroke="#111" stroke-width="1.2" stroke-linejoin="miter"/>
</g>
<g id="panelA">
<text x="133.2" y="45.2" font-size="7.65" font-weight="normal" text-anchor="middle" fill="#1a1a1a" >12 Light:12 Dark</text>
<text x="224" y="45.2" font-size="7.65" font-weight="normal" text-anchor="middle" fill="#1a1a1a" >Reversed 12D:12L</text>
<rect x="101.2" y="59.2" width="34.1" height="38.9" fill="#f3f8d8" stroke="#9a8222" stroke-width="1.35"/>
<rect x="135.3" y="59.2" width="33.4" height="38.9" fill="#7e7e7e" stroke="#111" stroke-width="1.35"/>
<path d="M112.2 72V87.2Q112.2 89.7 114.7 89.7H152.2Q154.7 89.7 154.7 87.2V72Z" fill="#f3f5fa" stroke="#d9dde6" stroke-width="0.5"/><rect x="115.7" y="72.5" width="8" height="3.2" rx="1" fill="#e6e9f0"/><circle cx="132.9" cy="79.9" r="7.4" fill="#f7f8fb" stroke="#9a9a9a" stroke-width="0.6"/><path d="M127.0 84.6L138.5 75.2" stroke="#8a8a8a" stroke-width="0.7"/><path d="M126.2 89.2L128.7 86.6H137.7L139.7 89.2Z" fill="#d5d5d8" stroke="#aaa" stroke-width="0.4"/><path d="M134.7 84.8Q135.0 81 138.3 79.2Q139.3 79.6 138.7 81.2Q137.9 84.2 136.1 85.3Z" fill="#3d3633"/><path d="M134.7 84.8Q132.2 86.4 130.2 85.6" stroke="#b06a66" stroke-width="0.4" fill="none"/><path d="M110.7 69.2Q110.7 68 111.9 68H154.9Q156.1 68 156.1 69.2V72.3H110.7Z" fill="#3d9fd0"/>
<rect x="192.7" y="59.2" width="32.5" height="38.9" fill="#7e7e7e" stroke="#111" stroke-width="1.35"/>
<rect x="225.2" y="59.2" width="32.3" height="38.9" fill="#f3f8d8" stroke="#9a8222" stroke-width="1.35"/>
<path d="M202.8 72V87.2Q202.8 89.7 205.3 89.7H242.8Q245.3 89.7 245.3 87.2V72Z" fill="#f3f5fa" stroke="#d9dde6" stroke-width="0.5"/><rect x="206.3" y="72.5" width="8" height="3.2" rx="1" fill="#e6e9f0"/><circle cx="223.5" cy="79.9" r="7.4" fill="#f7f8fb" stroke="#9a9a9a" stroke-width="0.6"/><path d="M217.60000000000002 84.6L229.10000000000002 75.2" stroke="#8a8a8a" stroke-width="0.7"/><path d="M216.8 89.2L219.3 86.6H228.3L230.3 89.2Z" fill="#d5d5d8" stroke="#aaa" stroke-width="0.4"/><path d="M225.3 84.8Q225.60000000000002 81 228.9 79.2Q229.9 79.6 229.3 81.2Q228.5 84.2 226.70000000000002 85.3Z" fill="#3d3633"/><path d="M225.3 84.8Q222.8 86.4 220.8 85.6" stroke="#b06a66" stroke-width="0.4" fill="none"/><path d="M201.3 69.2Q201.3 68 202.5 68H245.5Q246.70000000000002 68 246.70000000000002 69.2V72.3H201.3Z" fill="#3d9fd0"/>
<path d="M170.6 98.2H183.4" stroke="#111" stroke-width="0.8"/><path d="M186.4 98.2L182.6 96.3V100.1Z" fill="#111"/>
<text x="182.2" y="110.8" font-size="6.5" font-weight="normal" text-anchor="middle" fill="#1a1a1a" >Two weeks in</text>
<text x="182.2" y="118.2" font-size="6.5" font-weight="normal" text-anchor="middle" fill="#1a1a1a" >reversed</text>
<text x="182.2" y="125.6" font-size="6.5" font-weight="normal" text-anchor="middle" fill="#1a1a1a" >lighting</text>
<path d="M121.1 106.3Q129.1 104.3 137.1 106.3V113H121.1Z" fill="#4f4f51"/><ellipse cx="129.1" cy="106.3" rx="8" ry="1.3" fill="#5d5d60"/><path d="M113.1 113.6L121.1 111.8V159.6L113.1 154.6Z" fill="#39393b"/><path d="M121.1 111.8H146.6Q148.1 111.8 148.1 113.5V156.2L121.1 159.6Z" fill="#4a4a4c"/><path d="M113.1 113.6L121.1 111.8H146.6L148.1 113.4L146.1 116.2Q133.1 116.8 121.1 117.6L113.1 115.6Z" fill="#434345"/><path d="M146.1 116.2Q143.6 130 147.89999999999998 144.5" stroke="#333" stroke-width="0.5" fill="none"/><circle cx="129.1" cy="116.2" r="1.6" fill="none" stroke="#e2e2e2" stroke-width="0.55"/><rect x="119.3" y="124.6" width="2.6" height="4.4" rx="0.8" fill="#b9b9bd"/><rect x="119.3" y="139.6" width="2.6" height="4.4" rx="0.8" fill="#b9b9bd"/><rect x="145.89999999999998" y="131.2" width="1.8" height="5.6" rx="0.7" fill="#a5a5a9"/><path d="M122.1 151.4L148.1 146.6" stroke="#bfbfc3" stroke-width="0.8"/><path d="M122.1 153.5L148.1 149V156.2L122.1 159.5Z" fill="#333335"/><path d="M130.1 153.8L140.1 152.4V154.4L130.1 155.8Z" fill="#6c6c70"/><path d="M117.6 149.5L119.6 153" stroke="#888" stroke-width="0.4"/>
<path d="M211.6 106.3Q219.6 104.3 227.6 106.3V113H211.6Z" fill="#4f4f51"/><ellipse cx="219.6" cy="106.3" rx="8" ry="1.3" fill="#5d5d60"/><path d="M203.6 113.6L211.6 111.8V159.6L203.6 154.6Z" fill="#39393b"/><path d="M211.6 111.8H237.1Q238.6 111.8 238.6 113.5V156.2L211.6 159.6Z" fill="#4a4a4c"/><path d="M203.6 113.6L211.6 111.8H237.1L238.6 113.4L236.6 116.2Q223.6 116.8 211.6 117.6L203.6 115.6Z" fill="#434345"/><path d="M236.6 116.2Q234.1 130 238.39999999999998 144.5" stroke="#333" stroke-width="0.5" fill="none"/><circle cx="219.6" cy="116.2" r="1.6" fill="none" stroke="#e2e2e2" stroke-width="0.55"/><rect x="209.79999999999998" y="124.6" width="2.6" height="4.4" rx="0.8" fill="#b9b9bd"/><rect x="209.79999999999998" y="139.6" width="2.6" height="4.4" rx="0.8" fill="#b9b9bd"/><rect x="236.39999999999998" y="131.2" width="1.8" height="5.6" rx="0.7" fill="#a5a5a9"/><path d="M212.6 151.4L238.6 146.6" stroke="#bfbfc3" stroke-width="0.8"/><path d="M212.6 153.5L238.6 149V156.2L212.6 159.5Z" fill="#333335"/><path d="M220.6 153.8L230.6 152.4V154.4L220.6 155.8Z" fill="#6c6c70"/><path d="M208.1 149.5L210.1 153" stroke="#888" stroke-width="0.4"/>
<path d="M136.8 171.6L146.8 167.4L152.60000000000002 173.2L139.8 178.4Z" fill="#8ed8df" stroke="#c9eef1" stroke-width="0.6"/><path d="M137.20000000000002 172.4L139.8 178.6L152.70000000000002 173.6L152.60000000000002 174.6L139.60000000000002 179.8L136.8 172.8Z" fill="#cfd8de"/><path d="M147.8 166.2L150.8 163.6L157.3 169.2L153.20000000000002 172.4Z" fill="#d9eef4" opacity="0.85"/><path d="M150.4 162.6L156.0 157.6L162.0 160.2L157.8 168.2Z" fill="#e3e4e8" stroke="#c9cacf" stroke-width="0.4"/><path d="M157.4 156.6L160.60000000000002 150.6Q162.20000000000002 149.6 163.4 151L164.4 152.4L161.0 158.8Z" fill="#2f62a4"/><path d="M163.4 151L165.4 148.6" stroke="#9db4d6" stroke-width="0.8"/>
<path d="M225.6 171.6L235.6 167.4L241.4 173.2L228.6 178.4Z" fill="#8ed8df" stroke="#c9eef1" stroke-width="0.6"/><path d="M226.0 172.4L228.6 178.6L241.5 173.6L241.4 174.6L228.4 179.8L225.6 172.8Z" fill="#cfd8de"/><path d="M236.6 166.2L239.6 163.6L246.1 169.2L242.0 172.4Z" fill="#d9eef4" opacity="0.85"/><path d="M239.2 162.6L244.79999999999998 157.6L250.79999999999998 160.2L246.6 168.2Z" fill="#e3e4e8" stroke="#c9cacf" stroke-width="0.4"/><path d="M246.2 156.6L249.4 150.6Q251.0 149.6 252.2 151L253.2 152.4L249.79999999999998 158.8Z" fill="#2f62a4"/><path d="M252.2 151L254.2 148.6" stroke="#9db4d6" stroke-width="0.8"/>
<rect x="32.4" y="75.2" width="8.0" height="17.4" fill="#bdbdc2" stroke="#98989e" stroke-width="0.4"/><rect x="35.3" y="77.7" width="2.4" height="12.9" fill="#77777d"/><rect x="35.9" y="77.7" width="1.1" height="12.9" fill="#e9e9ec"/><rect x="35.8" y="71.1" width="5.1" height="4.6" rx="1.3" fill="#d2d2d6" stroke="#a8a8ae" stroke-width="0.35"/><ellipse cx="38.3" cy="72.0" rx="2.3" ry="1" fill="#e2e2e6"/><rect x="20.0" y="85.4" width="6.6" height="13.3" fill="#bdbdc2" stroke="#98989e" stroke-width="0.4"/><rect x="22.4" y="87.9" width="2.0" height="8.8" fill="#77777d"/><rect x="22.9" y="87.9" width="0.9" height="8.8" fill="#e9e9ec"/><rect x="18.0" y="98.10000000000001" width="8.6" height="4.7" fill="#e4e4e8" stroke="#b5b5ba" stroke-width="0.35"/><rect x="19.4" y="80.3" width="6.1" height="5.6" rx="1.3" fill="#d2d2d6" stroke="#a8a8ae" stroke-width="0.35"/><ellipse cx="22.4" cy="81.2" rx="2.8" ry="1" fill="#e2e2e6"/><path d="M3 95.3L20.4 97.6" stroke="#454548" stroke-width="1.9" stroke-linecap="round"/><path d="M2.4 93.9V96.9M4.9 94.2V97.2" stroke="#2c2c2e" stroke-width="1.3"/><circle cx="20.2" cy="97.2" r="1.5" fill="#222"/><path d="M35.6 94.2Q37.2 95.2 36 97.6Q34.4 101 33.6 103.6Q32.6 108 31.6 111Q30 116.6 28.2 120.4Q27 123 24.4 123.6Q19.6 125.6 15 125.4Q11.6 124.4 10.4 120.4Q9.4 116 11 112Q12.4 109.2 15 107Q19.4 103 23.6 99.8Q27.6 97 30.8 95.6Q33.6 93.8 35.6 94.2Z" fill="#3d3735"/><ellipse cx="33.4" cy="102.2" rx="1.1" ry="1.5" fill="#c58d88"/><path d="M32 108.4Q33.6 108.6 33.4 110M27.6 120.2Q29.6 120.4 28.8 122.2M23.8 99.4Q24.6 98.2 25.8 98.4" stroke="#c58d88" stroke-width="0.9" fill="none" stroke-linecap="round"/><rect x="41.0" y="89.0" width="7.0" height="12.8" fill="#bdbdc2" stroke="#98989e" stroke-width="0.4"/><rect x="43.5" y="91.5" width="2.1" height="8.3" fill="#77777d"/><rect x="44.1" y="91.5" width="1.0" height="8.3" fill="#e9e9ec"/><rect x="40.4" y="101.2" width="7.6" height="6.7" fill="#e4e4e8" stroke="#b5b5ba" stroke-width="0.35"/><rect x="41.4" y="83.9" width="5.6" height="5.6" rx="1.3" fill="#d2d2d6" stroke="#a8a8ae" stroke-width="0.35"/><ellipse cx="44.2" cy="84.80000000000001" rx="2.5" ry="1" fill="#e2e2e6"/><path d="M36 101.4L60 104.8" stroke="#454548" stroke-width="1.9" stroke-linecap="round"/><path d="M56.6 102.9V106.1M59.6 103.3V106.5" stroke="#2c2c2e" stroke-width="1.3"/><circle cx="41.6" cy="100.6" r="1.5" fill="#222"/><path d="M33.4 93.8L44.8 81" stroke="#2f2d2d" stroke-width="2.1" stroke-linecap="round"/><path d="M35.4 89.8L38.6 86.4" stroke="#777" stroke-width="0.5"/><circle cx="35.6" cy="89.6" r="1.3" fill="#1e1e1e"/><path d="M12.8 124.2Q11.6 128 13.4 130.4Q16 132.4 21 131.8Q26.4 131 30 129.6Q34.4 128 38.2 130.4" stroke="#9a5853" stroke-width="1.3" fill="none" stroke-linecap="round"/><ellipse cx="20.9" cy="115.1" rx="3.5" ry="2.2" transform="rotate(-40 20.9 115.1)" fill="#35c535" stroke="#f0eeee" stroke-width="0.75"/>
<text x="31.8" y="145.6" font-size="7.7" font-weight="normal" text-anchor="middle" fill="#1a1a1a" >n=7 P2L</text>
<text x="31.8" y="153.8" font-size="7.7" font-weight="normal" text-anchor="middle" fill="#1a1a1a" >n=6 Ef1a</text>
<text x="142.4" y="187.6" font-size="7.8" font-weight="normal" text-anchor="middle" fill="#1a1a1a" >24h IVIS recording +</text>
<text x="142.4" y="196.2" font-size="7.8" font-weight="normal" text-anchor="middle" fill="#1a1a1a" >IL1Ra ELISA</text>
<text x="229.0" y="187.6" font-size="7.8" font-weight="normal" text-anchor="middle" fill="#1a1a1a" >24h IVIS recording +</text>
<text x="229.0" y="196.2" font-size="7.8" font-weight="normal" text-anchor="middle" fill="#1a1a1a" >IL1Ra ELISA</text>
<text x="28.8" y="204.6" font-size="6.3" font-weight="normal" text-anchor="middle" fill="#1a1a1a" >Day 0</text>
<text x="141.2" y="204.6" font-size="6.3" font-weight="normal" text-anchor="middle" fill="#1a1a1a" >Day 14</text>
<text x="229.6" y="204.6" font-size="6.3" font-weight="normal" text-anchor="middle" fill="#1a1a1a" >Day 28</text>
<line x1="5" y1="209.3" x2="269" y2="209.3" stroke="#222" stroke-width="0.9"/>
</g>
<defs>
<clipPath id="clipF"><rect x="4.6" y="676.8" width="161.4" height="139.4"/></clipPath>
<clipPath id="clipG"><rect x="175.3" y="677.1" width="129.1" height="140.1"/></clipPath>
<clipPath id="clipH1"><rect x="317.3" y="677.3" width="148" height="138.5"/></clipPath>
<clipPath id="clipWH1"><rect x="310" y="670" width="174.2" height="149"/></clipPath>
<clipPath id="clipWH2"><rect x="500" y="670" width="185" height="149"/></clipPath>
<clipPath id="clipH2"><rect x="508" y="677.3" width="149.3" height="138.5"/></clipPath>
<filter id="texF" x="0" y="0" width="100%" height="100%"><feTurbulence type="fractalNoise" baseFrequency="0.55" numOctaves="2" seed="3" result="n"/><feColorMatrix in="n" type="matrix" values="0 0 0 0 0.93  0 0 0 0 0.76  0 0 0 0 0.93  1.0 1.0 0 0 -0.88" result="sp"/><feComposite in="sp" in2="SourceGraphic" operator="in" result="spc"/><feMerge><feMergeNode in="SourceGraphic"/><feMergeNode in="spc"/></feMerge></filter>
<filter id="texG" x="0" y="0" width="100%" height="100%"><feTurbulence type="fractalNoise" baseFrequency="0.7" numOctaves="2" seed="8" result="n"/><feColorMatrix in="n" type="matrix" values="0 0 0 0 0.70  0 0 0 0 0.58  0 0 0 0 0.76  1.8 1.8 0 0 -1.5" result="sp"/><feComposite in="sp" in2="SourceGraphic" operator="in" result="spc"/><feMerge><feMergeNode in="SourceGraphic"/><feMergeNode in="spc"/></feMerge></filter>
<filter id="texI" x="-5%" y="-5%" width="110%" height="110%"><feTurbulence type="fractalNoise" baseFrequency="0.42" numOctaves="2" seed="5" result="n"/><feColorMatrix in="n" type="matrix" values="0 0 0 0 0.87  0 0 0 0 0.81  0 0 0 0 0.90  2.6 2.6 0 0 -2.4" result="sp"/><feComposite in="sp" in2="SourceGraphic" operator="in" result="spc"/><feMerge><feMergeNode in="SourceGraphic"/><feMergeNode in="spc"/></feMerge></filter>
<filter id="rough" x="-5%" y="-5%" width="110%" height="110%"><feTurbulence type="fractalNoise" baseFrequency="0.09" numOctaves="2" seed="11" result="n"/><feDisplacementMap in="SourceGraphic" in2="n" scale="5" xChannelSelector="R" yChannelSelector="G"/></filter>
<filter id="roughG" x="-5%" y="-5%" width="110%" height="110%"><feTurbulence type="fractalNoise" baseFrequency="0.16" numOctaves="2" seed="21" result="n"/><feDisplacementMap in="SourceGraphic" in2="n" scale="4.5" xChannelSelector="R" yChannelSelector="G"/></filter>
<filter id="fur" x="0" y="0" width="100%" height="100%"><feTurbulence type="fractalNoise" baseFrequency="0.14 0.07" numOctaves="2" seed="7" result="n"/><feColorMatrix in="n" type="matrix" values="0 0 0 0 0.33  0 0 0 0 0.33  0 0 0 0 0.33  1.1 0.9 0 0 -0.98" result="sp"/><feComposite in="sp" in2="SourceGraphic" operator="in" result="spc"/><feMerge><feMergeNode in="SourceGraphic"/><feMergeNode in="spc"/></feMerge></filter>
<filter id="blur05" x="-5%" y="-5%" width="110%" height="110%"><feGaussianBlur stdDeviation="0.45 0.2"/></filter>
<linearGradient id="bandg" x1="0" y1="0" x2="0" y2="1"><stop offset="0" stop-color="#4c4c4c"/><stop offset="1" stop-color="#626262"/></linearGradient>
<filter id="blur1" x="-20%" y="-20%" width="140%" height="140%"><feGaussianBlur stdDeviation="0.6"/></filter>
<filter id="blur2" x="-20%" y="-20%" width="140%" height="140%"><feGaussianBlur stdDeviation="1.6"/></filter>
<linearGradient id="rainbow" x1="0" y1="0" x2="0" y2="1"><stop offset="0" stop-color="#e8121a"/><stop offset="0.14" stop-color="#ff8a12"/><stop offset="0.27" stop-color="#f7f01a"/><stop offset="0.42" stop-color="#46e01e"/><stop offset="0.58" stop-color="#22e0c8"/><stop offset="0.72" stop-color="#1c7cf2"/><stop offset="0.86" stop-color="#2a1ef0"/><stop offset="1" stop-color="#a01ee6"/></linearGradient>
<radialGradient id="sigA"><stop offset="0" stop-color="#3a6cf5"/><stop offset="0.45" stop-color="#2a2af0"/><stop offset="0.8" stop-color="#8a2be2"/><stop offset="1" stop-color="#8a2be2" stop-opacity="0.5"/></radialGradient>
<radialGradient id="sigB"><stop offset="0" stop-color="#d8ee2a"/><stop offset="0.22" stop-color="#38de3a"/><stop offset="0.4" stop-color="#22c8e6"/><stop offset="0.62" stop-color="#2a2af0"/><stop offset="0.85" stop-color="#8a2be2"/><stop offset="1" stop-color="#8a2be2" stop-opacity="0.5"/></radialGradient>
<radialGradient id="sigC"><stop offset="0" stop-color="#ee2a1a"/><stop offset="0.16" stop-color="#f7e01a"/><stop offset="0.3" stop-color="#38de3a"/><stop offset="0.44" stop-color="#22c8e6"/><stop offset="0.64" stop-color="#2a2af0"/><stop offset="0.86" stop-color="#8a2be2"/><stop offset="1" stop-color="#8a2be2" stop-opacity="0.5"/></radialGradient>
</defs>
<g id="panelF" clip-path="url(#clipF)">
<rect x="4.6" y="676.8" width="161.4" height="139.4" fill="#d4bcdb"/>
<path d="M60.0 675.5L167.3 675.5L167.3 690.9Q143.1 693.4 122.6 707.5Q102.2 721.5 85.6 726.6Q76.6 701.1 60.0 675.5Z" fill="#dccbe2" filter="url(#blur1)"/>
<g filter="url(#rough)">
<path d="M2.6 675.5L61.3 675.5Q74.1 690.9 76.1 716.4Q79.7 739.4 75.6 759.9Q69.0 777.7 56.7 793.1Q43.4 804.6 28.1 805.3Q15.3 803.3 2.6 794.4Z" fill="#b9569f" filter="url(#texF)"/>
<path d="M168.6 690.9Q143.1 701.1 120.1 712.6Q98.4 720.3 85.6 736.9Q77.9 757.3 74.1 782.9Q69.0 803.3 69.5 818.6L168.6 818.6Z" fill="#bb5ca2" filter="url(#texF)"/>
</g>
<path d="M76.6 770.1Q92.0 762.4 102.2 782.9Q112.4 803.3 120.1 816.1L70.3 816.1Z" fill="#d9a0c8" opacity="0.5" filter="url(#blur2)"/>
<path d="M107.3 715.2Q132.9 726.6 166.1 717.7L166.1 696.0Q138.0 707.5 107.3 715.2Z" fill="#dcaed0" opacity="0.45" filter="url(#blur2)"/>
<path d="M76.6 726.6Q84.3 747.1 75.6 762.4Q69.0 782.9 58.8 795.6" stroke="#dcc6e0" stroke-width="2.2" fill="none" filter="url(#blur1)"/>
<path d="M91.5 707.5Q106.0 701.1 120.1 703.1Q113.7 712.1 99.1 716.4Q91.5 714.4 91.5 707.5Z" fill="#fcfcfe" filter="url(#blur1)"/>
<path d="M76.6 678.6Q94.5 675.5 115.0 681.2Q104.8 696.0 88.1 697.5Z" fill="#f1edf5" filter="url(#blur2)"/>
<path d="M120.1 685.8Q143.1 680.7 167.3 688.3L167.3 694.7Q143.1 701.1 122.6 708.8Z" fill="#d2a6cf" opacity="0.7" filter="url(#blur2)"/>
<path d="M49.8 796.9Q57.5 790.0 65.9 796.9Q66.9 808.4 60.0 814.0Q51.1 812.2 49.8 796.9Z" fill="#fcfcfe" filter="url(#blur1)"/>
<path d="M10.2 796.9Q17.9 793.1 20.4 800.7Q15.3 805.9 10.2 803.3Z" fill="#f1eaf4"/>
<path d="M2.6 802.8Q15.3 806.4 31.9 812.0L35.8 818.6L2.6 818.6Z" fill="#4fb0ad"/>
<path d="M4.6 789.2Q12.8 790.0 19.2 794.4" stroke="#7a2f86" stroke-width="1" fill="none"/>
<path d="M100.9 759.9Q106.0 777.7 115.0 795.6Q120.1 803.3 121.4 808.4" stroke="#9cc9cf" stroke-width="1.5" fill="none" opacity="0.8"/>
<path d="M63.9 777.7Q67.7 782.9 66.9 793.1" stroke="#a8d0d4" stroke-width="1.8" fill="none" opacity="0.8"/>
<path d="M76.6 688.3Q83.0 690.9 85.6 697.3" stroke="#7fc4c0" stroke-width="1.1" fill="none"/>
<path d="M112.4 675.5L167.3 675.5L167.3 684.2L143.1 682.4Q127.7 680.1 112.4 675.5Z" fill="#ebe7ee" filter="url(#blur1)"/>
<path d="M138.0 682.4L167.3 684.7" stroke="#86c6c6" stroke-width="1.5" fill="none" filter="url(#blur1)"/>
<path d="M5.1 716.9L21.7 719.5" stroke="#6a2a60" stroke-width="0.6" fill="none"/>
<path d="M107.3 716.9L115.0 722.8" stroke="#6a2a80" stroke-width="0.9" fill="none"/>
<rect x="140" y="811.1" width="20.4" height="3.7" fill="#000"/>
</g>
<g id="panelG" clip-path="url(#clipG)">
<rect x="175.3" y="677.1" width="129.1" height="140.1" fill="#ede6ee" filter="url(#texG)"/>
<path d="M233.5 673.7Q258.9 676.5 272.7 693.4Q287.5 719.9 282.2 755.8Q275.8 787.6 251.5 804.5Q222.9 815.1 199.6 798.2Q181.6 777.0 185.9 738.9Q190.1 704.0 213.4 684.9Q222.9 675.4 233.5 673.7Z" fill="#dad2df" filter="url(#blur2)"/>
<path d="M265.3 679.6Q282.2 677.1 299.1 690.2Q305.5 708.2 293.8 723.0Q283.3 717.7 276.9 701.9Q270.6 690.2 265.3 679.6Z" fill="#fefeff" filter="url(#blur1)"/>
<path d="M288.5 719.9Q297.0 738.9 305.5 749.5L305.5 777.0Q294.9 760.1 284.3 738.9Z" fill="#f8f6f9" filter="url(#blur2)"/>
<path d="M174.2 675.4L196.5 675.4Q186.9 692.3 174.2 701.9Z" fill="#f9f7fa" filter="url(#blur2)"/>
<path d="M201.8 686.0Q189.1 705.0 174.2 713.5" stroke="#f9f7fa" stroke-width="3" fill="none" filter="url(#blur1)"/>
<g filter="url(#roughG)">
<path d="M227.2 680.1Q235.6 676.7 245.1 679.2Q255.7 683.9 263.1 693.4Q275.8 713.5 274.1 734.7Q272.0 760.1 260.0 782.3Q248.3 796.5 232.4 796.1Q216.6 792.3 206.4 776.0Q194.6 755.8 195.8 734.7Q198.6 711.4 213.4 697.6Q220.8 686.0 227.2 680.1Z" fill="#e6bf9c" stroke="#dc4a28" stroke-width="1.9"/>
<path d="M235.2 683.4Q253.6 688.1 266.3 712.4Q269.9 738.9 260.0 769.6Q247.3 789.7 231.8 790.1Q214.5 783.4 203.9 756.9Q200.1 731.5 211.3 709.3Q222.9 689.2 235.2 683.4Z" fill="none" stroke="#dccfe2" stroke-width="2.4" stroke-dasharray="7 3 4 2" opacity="0.9"/>
<path d="M227.2 680.1Q235.6 676.7 245.1 679.2Q255.7 683.9 263.1 693.4Q275.8 713.5 274.1 734.7Q272.0 760.1 260.0 782.3Q248.3 796.5 232.4 796.1Q216.6 792.3 206.4 776.0Q194.6 755.8 195.8 734.7Q198.6 711.4 213.4 697.6Q220.8 686.0 227.2 680.1Z" fill="none" stroke="#e2552e" stroke-width="1.2" stroke-dasharray="6 1.5 3 1"/>
<path d="M263.1 700.8Q272.0 719.9 269.5 743.1Q266.3 764.3 256.8 779.1" fill="none" stroke="#e0603a" stroke-width="1" stroke-dasharray="3 2.5 1.5 3"/>
<path d="M201.8 768.5Q197.5 749.5 200.7 726.2" fill="none" stroke="#e0603a" stroke-width="0.9" stroke-dasharray="2.5 3"/>
</g>
<path d="M235.2 681.8Q253.6 686.4 267.8 711.4Q271.6 738.9 261.4 770.7Q247.9 791.4 231.8 791.8Q213.4 785.1 202.2 757.5Q198.4 731.5 209.8 708.4Q222.1 687.7 235.2 681.8Z" fill="#e6bb92" filter="url(#texI)"/>
<path d="M184.4 740.0L185.7 748.4" stroke="#2a2622" stroke-width="1.4"/>
<path d="M298.1 736.8L301.7 743.1" stroke="#6a5a4a" stroke-width="1.6"/>
<rect x="279" y="810.3" width="20.2" height="3.5" fill="#000"/>
</g>
<g id="H1" clip-path="url(#clipWH1)">
<g clip-path="url(#clipH1)">
<rect x="317.3" y="677.3" width="148.0" height="138.5" fill="#505050"/>
<rect x="317.3" y="677.3" width="148.0" height="22" fill="url(#bandg)"/>
<rect x="317.3" y="699.2" width="148.0" height="26.4" fill="#262626"/>
<g filter="url(#blur05)" opacity="0.85"><rect x="318.6" y="699.4" width="1.2" height="26" fill="#8a8a8a"/><rect x="321.1" y="699.4" width="2.2" height="26" fill="#1c1c1c"/><rect x="324.4" y="699.4" width="4.5" height="26" fill="#3c3c3c"/><rect x="329.2" y="699.4" width="5" height="26" fill="#4e4e4e"/><rect x="335.2" y="699.4" width="1.5" height="26" fill="#d8d8d8"/><rect x="338.6" y="699.4" width="1.2" height="26" fill="#b4b4b4"/><rect x="340.2" y="699.4" width="5" height="26" fill="#474747"/><rect x="346.4" y="699.4" width="4.5" height="26" fill="#383838"/><rect x="352.1" y="699.4" width="2.2" height="26" fill="#1a1a1a"/><rect x="355.6" y="699.4" width="1.2" height="26" fill="#8e8e8e"/></g>
<g filter="url(#fur)">
<path d="M330.7 726Q337.7 723 344.7 726Q353.45 731 355.45 742Q358.45 760 357.45 785Q357.45 805 351.45 817H323.95Q317.95 805 317.95 785Q316.95 760 319.95 742Q321.95 731 330.7 726Z" fill="#1d1d1d"/>
</g>
<ellipse cx="323.95" cy="740" rx="4.8" ry="3.2" fill="#9a9a9a" transform="rotate(-38 323.95 740)" filter="url(#blur1)"/>
<ellipse cx="351.45" cy="740" rx="4.8" ry="3.2" fill="#9a9a9a" transform="rotate(38 351.45 740)" filter="url(#blur1)"/>
<path d="M321.95 812L326.95 817M353.45 812L348.45 817" stroke="#a9a9a9" stroke-width="1.4" filter="url(#blur1)"/>
<g filter="url(#blur05)" opacity="0.85"><rect x="365.6" y="699.4" width="1.2" height="26" fill="#8a8a8a"/><rect x="368.1" y="699.4" width="2.2" height="26" fill="#1c1c1c"/><rect x="371.4" y="699.4" width="4.5" height="26" fill="#3c3c3c"/><rect x="376.2" y="699.4" width="5" height="26" fill="#4e4e4e"/><rect x="382.2" y="699.4" width="1.5" height="26" fill="#d8d8d8"/><rect x="385.6" y="699.4" width="1.2" height="26" fill="#b4b4b4"/><rect x="387.2" y="699.4" width="5" height="26" fill="#474747"/><rect x="393.4" y="699.4" width="4.5" height="26" fill="#383838"/><rect x="399.1" y="699.4" width="2.2" height="26" fill="#1a1a1a"/><rect x="402.6" y="699.4" width="1.2" height="26" fill="#8e8e8e"/></g>
<g filter="url(#fur)">
<path d="M377.7 726Q384.7 723 391.7 726Q400.45 731 402.45 742Q405.45 760 404.45 785Q404.45 805 398.45 817H370.95Q364.95 805 364.95 785Q363.95 760 366.95 742Q368.95 731 377.7 726Z" fill="#1d1d1d"/>
</g>
<ellipse cx="370.95" cy="740" rx="4.8" ry="3.2" fill="#9a9a9a" transform="rotate(-38 370.95 740)" filter="url(#blur1)"/>
<ellipse cx="398.45" cy="740" rx="4.8" ry="3.2" fill="#9a9a9a" transform="rotate(38 398.45 740)" filter="url(#blur1)"/>
<path d="M368.95 812L373.95 817M400.45 812L395.45 817" stroke="#a9a9a9" stroke-width="1.4" filter="url(#blur1)"/>
<g filter="url(#blur05)" opacity="0.85"><rect x="414.4" y="699.4" width="1.2" height="26" fill="#8a8a8a"/><rect x="416.9" y="699.4" width="2.2" height="26" fill="#1c1c1c"/><rect x="420.2" y="699.4" width="4.5" height="26" fill="#3c3c3c"/><rect x="425.0" y="699.4" width="5" height="26" fill="#4e4e4e"/><rect x="431.1" y="699.4" width="1.5" height="26" fill="#d8d8d8"/><rect x="434.4" y="699.4" width="1.2" height="26" fill="#b4b4b4"/><rect x="436.0" y="699.4" width="5" height="26" fill="#474747"/><rect x="442.2" y="699.4" width="4.5" height="26" fill="#383838"/><rect x="447.9" y="699.4" width="2.2" height="26" fill="#1a1a1a"/><rect x="451.4" y="699.4" width="1.2" height="26" fill="#8e8e8e"/></g>
<g filter="url(#fur)">
<path d="M426.5 726Q433.5 723 440.5 726Q449.25 731 451.25 742Q454.25 760 453.25 785Q453.25 805 447.25 817H419.75Q413.75 805 413.75 785Q412.75 760 415.75 742Q417.75 731 426.5 726Z" fill="#1d1d1d"/>
</g>
<ellipse cx="419.75" cy="740" rx="4.8" ry="3.2" fill="#9a9a9a" transform="rotate(-38 419.75 740)" filter="url(#blur1)"/>
<ellipse cx="447.25" cy="740" rx="4.8" ry="3.2" fill="#9a9a9a" transform="rotate(38 447.25 740)" filter="url(#blur1)"/>
<path d="M417.75 812L422.75 817M449.25 812L444.25 817" stroke="#a9a9a9" stroke-width="1.4" filter="url(#blur1)"/>
<line x1="361.0" y1="692.5" x2="361.0" y2="700" stroke="#0c0c0c" stroke-width="0.9"/>
<line x1="409.8" y1="692.5" x2="409.8" y2="700" stroke="#0c0c0c" stroke-width="0.9"/>
<line x1="458.6" y1="692.5" x2="458.6" y2="700" stroke="#0c0c0c" stroke-width="0.9"/>
<path d="M337.7 779.9Q345.34999999999997 774.9 353.0 779.9V798.1999999999999Q345.34999999999997 806.1999999999999 337.7 798.1999999999999Z" fill="#f4f4f4"/>
<path d="M383.5 774.3Q391.15 769.3 398.8 774.3V798.1999999999999Q391.15 806.1999999999999 383.5 798.1999999999999Z" fill="#f4f4f4"/>
<path d="M427.9 789.6Q436.95 784.6 446.0 789.6V796.8000000000001Q436.95 804.8000000000001 427.9 796.8000000000001Z" fill="#f4f4f4"/>
<ellipse cx="347.4" cy="782.4" rx="3.8" ry="4.4" fill="url(#sigA)"/>
<ellipse cx="392.9" cy="787.6" rx="5.2" ry="6.0" fill="url(#sigB)"/>
<ellipse cx="443.1" cy="781.4" rx="4.6" ry="5.3" fill="url(#sigB)"/>
<text x="390" y="695.2" font-size="15" font-weight="bold" text-anchor="middle" fill="#fff" >ZT5</text>
</g>
<rect x="467.5" y="682.6" width="5.6" height="93" fill="url(#rainbow)" stroke="#9a9a9a" stroke-width="0.3"/>
<line x1="473.1" y1="683.5" x2="475.1" y2="683.5" stroke="#333" stroke-width="0.5"/>
<text x="475.9" y="684.8" font-size="3.7" font-weight="bold" text-anchor="start" fill="#333" >8000</text>
<line x1="473.1" y1="707.7" x2="475.1" y2="707.7" stroke="#333" stroke-width="0.5"/>
<text x="475.9" y="709.0" font-size="3.7" font-weight="bold" text-anchor="start" fill="#333" >6000</text>
<line x1="473.1" y1="731.9" x2="475.1" y2="731.9" stroke="#333" stroke-width="0.5"/>
<text x="475.9" y="733.1999999999999" font-size="3.7" font-weight="bold" text-anchor="start" fill="#333" >4000</text>
<line x1="473.1" y1="756.1" x2="475.1" y2="756.1" stroke="#333" stroke-width="0.5"/>
<text x="475.9" y="757.4" font-size="3.7" font-weight="bold" text-anchor="start" fill="#333" >2000</text>
<rect x="467.5" y="776.9" width="19" height="13.8" fill="#fff" stroke="#555" stroke-width="0.5"/>
<text x="477.0" y="781.2" font-size="3.5" font-weight="normal" text-anchor="middle" fill="#111" stroke="#111" stroke-width="0.12">Color Bar</text>
<text x="477.0" y="785.2" font-size="3.5" font-weight="normal" text-anchor="middle" fill="#111" stroke="#111" stroke-width="0.12">Min = 2000</text>
<text x="477.0" y="789.2" font-size="3.5" font-weight="normal" text-anchor="middle" fill="#111" stroke="#111" stroke-width="0.12">Max = 8000</text>
<text x="467.4" y="807.2" font-size="3.8" font-weight="normal" text-anchor="start" fill="#111" stroke="#111" stroke-width="0.12">bkg sub</text>
<text x="467.4" y="811.6" font-size="3.8" font-weight="normal" text-anchor="start" fill="#111" stroke="#111" stroke-width="0.12">flat-fielded</text>
<text x="467.4" y="816.0" font-size="3.8" font-weight="normal" text-anchor="start" fill="#111" stroke="#111" stroke-width="0.12">cosmic</text>
</g>
<rect x="499.2" y="677.5" width="2.2" height="138.3" fill="#a9bedb"/>
<g id="H2" clip-path="url(#clipWH2)">
<g clip-path="url(#clipH2)">
<rect x="508" y="677.3" width="149.3" height="138.5" fill="#505050"/>
<rect x="508" y="677.3" width="149.3" height="22" fill="url(#bandg)"/>
<rect x="508" y="699.2" width="149.3" height="26.4" fill="#262626"/>
<g filter="url(#blur05)" opacity="0.85"><rect x="511.9" y="699.4" width="1.2" height="26" fill="#8a8a8a"/><rect x="514.4" y="699.4" width="2.2" height="26" fill="#1c1c1c"/><rect x="517.8" y="699.4" width="4.5" height="26" fill="#3c3c3c"/><rect x="522.5" y="699.4" width="5" height="26" fill="#4e4e4e"/><rect x="528.5" y="699.4" width="1.5" height="26" fill="#d8d8d8"/><rect x="531.9" y="699.4" width="1.2" height="26" fill="#b4b4b4"/><rect x="533.5" y="699.4" width="5" height="26" fill="#474747"/><rect x="539.8" y="699.4" width="4.5" height="26" fill="#383838"/><rect x="545.4" y="699.4" width="2.2" height="26" fill="#1a1a1a"/><rect x="548.9" y="699.4" width="1.2" height="26" fill="#8e8e8e"/></g>
<g filter="url(#fur)">
<path d="M524 726Q531 723 538 726Q547.0 731 549.0 742Q552.0 760 551.0 785Q551.0 805 545.0 817H517.0Q511.0 805 511.0 785Q510.0 760 513.0 742Q515.0 731 524 726Z" fill="#1d1d1d"/>
</g>
<ellipse cx="517.0" cy="740" rx="4.8" ry="3.2" fill="#9a9a9a" transform="rotate(-38 517.0 740)" filter="url(#blur1)"/>
<ellipse cx="545.0" cy="740" rx="4.8" ry="3.2" fill="#9a9a9a" transform="rotate(38 545.0 740)" filter="url(#blur1)"/>
<path d="M515.0 812L520.0 817M547.0 812L542.0 817" stroke="#a9a9a9" stroke-width="1.4" filter="url(#blur1)"/>
<g filter="url(#blur05)" opacity="0.85"><rect x="559.4" y="699.4" width="1.2" height="26" fill="#8a8a8a"/><rect x="561.9" y="699.4" width="2.2" height="26" fill="#1c1c1c"/><rect x="565.2" y="699.4" width="4.5" height="26" fill="#3c3c3c"/><rect x="570.0" y="699.4" width="5" height="26" fill="#4e4e4e"/><rect x="576.0" y="699.4" width="1.5" height="26" fill="#d8d8d8"/><rect x="579.4" y="699.4" width="1.2" height="26" fill="#b4b4b4"/><rect x="581.0" y="699.4" width="5" height="26" fill="#474747"/><rect x="587.2" y="699.4" width="4.5" height="26" fill="#383838"/><rect x="592.9" y="699.4" width="2.2" height="26" fill="#1a1a1a"/><rect x="596.4" y="699.4" width="1.2" height="26" fill="#8e8e8e"/></g>
<g filter="url(#fur)">
<path d="M571.5 726Q578.5 723 585.5 726Q594.5 731 596.5 742Q599.5 760 598.5 785Q598.5 805 592.5 817H564.5Q558.5 805 558.5 785Q557.5 760 560.5 742Q562.5 731 571.5 726Z" fill="#1d1d1d"/>
</g>
<ellipse cx="564.5" cy="740" rx="4.8" ry="3.2" fill="#9a9a9a" transform="rotate(-38 564.5 740)" filter="url(#blur1)"/>
<ellipse cx="592.5" cy="740" rx="4.8" ry="3.2" fill="#9a9a9a" transform="rotate(38 592.5 740)" filter="url(#blur1)"/>
<path d="M562.5 812L567.5 817M594.5 812L589.5 817" stroke="#a9a9a9" stroke-width="1.4" filter="url(#blur1)"/>
<g filter="url(#blur05)" opacity="0.85"><rect x="607.9" y="699.4" width="1.2" height="26" fill="#8a8a8a"/><rect x="610.4" y="699.4" width="2.2" height="26" fill="#1c1c1c"/><rect x="613.8" y="699.4" width="4.5" height="26" fill="#3c3c3c"/><rect x="618.5" y="699.4" width="5" height="26" fill="#4e4e4e"/><rect x="624.5" y="699.4" width="1.5" height="26" fill="#d8d8d8"/><rect x="627.9" y="699.4" width="1.2" height="26" fill="#b4b4b4"/><rect x="629.5" y="699.4" width="5" height="26" fill="#474747"/><rect x="635.8" y="699.4" width="4.5" height="26" fill="#383838"/><rect x="641.4" y="699.4" width="2.2" height="26" fill="#1a1a1a"/><rect x="644.9" y="699.4" width="1.2" height="26" fill="#8e8e8e"/></g>
<g filter="url(#fur)">
<path d="M620 726Q627 723 634 726Q643.0 731 645.0 742Q648.0 760 647.0 785Q647.0 805 641.0 817H613.0Q607.0 805 607.0 785Q606.0 760 609.0 742Q611.0 731 620 726Z" fill="#1d1d1d"/>
</g>
<ellipse cx="613.0" cy="740" rx="4.8" ry="3.2" fill="#9a9a9a" transform="rotate(-38 613.0 740)" filter="url(#blur1)"/>
<ellipse cx="641.0" cy="740" rx="4.8" ry="3.2" fill="#9a9a9a" transform="rotate(38 641.0 740)" filter="url(#blur1)"/>
<path d="M611.0 812L616.0 817M643.0 812L638.0 817" stroke="#a9a9a9" stroke-width="1.4" filter="url(#blur1)"/>
<line x1="552.0" y1="692.5" x2="552.0" y2="700" stroke="#0c0c0c" stroke-width="0.9"/>
<line x1="601.3" y1="692.5" x2="601.3" y2="700" stroke="#0c0c0c" stroke-width="0.9"/>
<line x1="650.6" y1="692.5" x2="650.6" y2="700" stroke="#0c0c0c" stroke-width="0.9"/>
<path d="M532.4 774.3Q540.05 769.3 547.6999999999999 774.3V796.8Q540.05 804.8 532.4 796.8Z" fill="#f4f4f4"/>
<path d="M579.6 771.5Q587.25 766.5 594.9 771.5V795.4Q587.25 803.4 579.6 795.4Z" fill="#f4f4f4"/>
<path d="M628.1 791Q636.45 786 644.8000000000001 791V798.2Q636.45 806.2 628.1 798.2Z" fill="#f4f4f4"/>
<ellipse cx="540.8" cy="779.8" rx="5.6" ry="6.4" fill="url(#sigB)"/>
<circle cx="537.3965289871118" cy="784.4506565476914" r="0.7" fill="#8a2be2" opacity="0.85"/>
<circle cx="539.1566406687175" cy="785.2795563328385" r="0.7" fill="#8a2be2" opacity="0.85"/>
<circle cx="535.5316660524754" cy="789.2254562317612" r="0.7" fill="#8a2be2" opacity="0.85"/>
<circle cx="544.8975054739649" cy="795.6072376239329" r="0.7" fill="#8a2be2" opacity="0.85"/>
<circle cx="543.2167886275598" cy="786.350850811045" r="0.7" fill="#8a2be2" opacity="0.85"/>
<circle cx="540.7034800899229" cy="787.2269222950631" r="0.7" fill="#8a2be2" opacity="0.85"/>
<circle cx="536.699309822139" cy="784.4989326789045" r="0.7" fill="#8a2be2" opacity="0.85"/>
<circle cx="537.1584047583681" cy="797.6396101028489" r="0.7" fill="#8a2be2" opacity="0.85"/>
<circle cx="543.9181205365626" cy="795.7064375472371" r="0.7" fill="#8a2be2" opacity="0.85"/>
<circle cx="543.6049262239726" cy="785.8949698883077" r="0.7" fill="#8a2be2" opacity="0.85"/>
<circle cx="538.2083495302949" cy="792.8316096386101" r="0.7" fill="#8a2be2" opacity="0.85"/>
<circle cx="542.8508417976659" cy="796.4743737278615" r="0.7" fill="#8a2be2" opacity="0.85"/>
<circle cx="544.4805582649732" cy="784.1874920421587" r="0.7" fill="#8a2be2" opacity="0.85"/>
<circle cx="541.4643707209186" cy="793.5472233042635" r="0.7" fill="#8a2be2" opacity="0.85"/>
<ellipse cx="590.1" cy="783.8" rx="5.8" ry="6.7" fill="url(#sigC)"/>
<circle cx="588.171445308525" cy="781.7113838332972" r="0.7" fill="#8a2be2" opacity="0.85"/>
<circle cx="587.7830546510218" cy="779.7656165598386" r="0.7" fill="#8a2be2" opacity="0.85"/>
<circle cx="593.3150603667989" cy="796.8406517440718" r="0.7" fill="#8a2be2" opacity="0.85"/>
<circle cx="588.6716664350447" cy="784.4054062706131" r="0.7" fill="#8a2be2" opacity="0.85"/>
<circle cx="593.0064434729762" cy="790.3920696370895" r="0.7" fill="#8a2be2" opacity="0.85"/>
<circle cx="592.6878068785455" cy="796.4569699409199" r="0.7" fill="#8a2be2" opacity="0.85"/>
<circle cx="588.2004685039931" cy="786.906812948898" r="0.7" fill="#8a2be2" opacity="0.85"/>
<circle cx="589.28694966628" cy="787.2829463804527" r="0.7" fill="#8a2be2" opacity="0.85"/>
<circle cx="584.0358472734594" cy="784.5124551215202" r="0.7" fill="#8a2be2" opacity="0.85"/>
<circle cx="591.8511078236155" cy="778.7512463195894" r="0.7" fill="#8a2be2" opacity="0.85"/>
<circle cx="582.6558639880421" cy="791.5797164018778" r="0.7" fill="#8a2be2" opacity="0.85"/>
<circle cx="585.4651985393947" cy="789.5616794873472" r="0.7" fill="#8a2be2" opacity="0.85"/>
<circle cx="587.7548810333799" cy="785.3425518392874" r="0.7" fill="#8a2be2" opacity="0.85"/>
<circle cx="594.0673464900653" cy="782.1026168753328" r="0.7" fill="#8a2be2" opacity="0.85"/>
<ellipse cx="642" cy="779.6" rx="5.0" ry="5.8" fill="url(#sigC)"/>
<circle cx="640.6831652666476" cy="786.8427298587584" r="1.0" fill="#8a2be2" opacity="0.85"/>
<circle cx="642.1123223816417" cy="788.0208773593549" r="1.0" fill="#8a2be2" opacity="0.85"/>
<circle cx="640.3128999049478" cy="795.5510828958475" r="1.0" fill="#8a2be2" opacity="0.85"/>
<circle cx="640.0843478711233" cy="792.5364637373343" r="1.0" fill="#8a2be2" opacity="0.85"/>
<circle cx="643.8780481599492" cy="785.2156710194857" r="1.0" fill="#8a2be2" opacity="0.85"/>
<circle cx="638.4004665732612" cy="787.2619110438203" r="1.0" fill="#8a2be2" opacity="0.85"/>
<circle cx="642.9735545686208" cy="793.4469132020591" r="1.0" fill="#8a2be2" opacity="0.85"/>
<circle cx="639.5432116038646" cy="788.8970719259478" r="1.0" fill="#8a2be2" opacity="0.85"/>
<circle cx="639.1540080077276" cy="790.9443000347228" r="1.0" fill="#8a2be2" opacity="0.85"/>
<circle cx="638.2782727205831" cy="794.7566701033843" r="1.0" fill="#8a2be2" opacity="0.85"/>
<circle cx="643.8235305642269" cy="798.8758015734776" r="1.0" fill="#8a2be2" opacity="0.85"/>
<circle cx="642.7767067170805" cy="798.9578814658072" r="1.0" fill="#8a2be2" opacity="0.85"/>
<circle cx="638.1182189144065" cy="788.2239434864135" r="1.0" fill="#8a2be2" opacity="0.85"/>
<circle cx="644.2790439202928" cy="796.0038309636024" r="1.0" fill="#8a2be2" opacity="0.85"/>
<circle cx="640.6677799269477" cy="798.6929338776478" r="1.0" fill="#8a2be2" opacity="0.85"/>
<circle cx="642.033318064513" cy="796.686844811172" r="1.0" fill="#8a2be2" opacity="0.85"/>
<text x="588" y="695.2" font-size="15" font-weight="bold" text-anchor="middle" fill="#fff" >ZT13</text>
</g>
<rect x="660.4" y="682.6" width="5.6" height="93" fill="url(#rainbow)" stroke="#9a9a9a" stroke-width="0.3"/>
<line x1="666.0" y1="683.5" x2="668.0" y2="683.5" stroke="#333" stroke-width="0.5"/>
<text x="668.8" y="684.8" font-size="3.7" font-weight="bold" text-anchor="start" fill="#333" >80000</text>
<line x1="666.0" y1="707.7" x2="668.0" y2="707.7" stroke="#333" stroke-width="0.5"/>
<text x="668.8" y="709.0" font-size="3.7" font-weight="bold" text-anchor="start" fill="#333" >60000</text>
<line x1="666.0" y1="731.9" x2="668.0" y2="731.9" stroke="#333" stroke-width="0.5"/>
<text x="668.8" y="733.1999999999999" font-size="3.7" font-weight="bold" text-anchor="start" fill="#333" >40000</text>
<line x1="666.0" y1="756.1" x2="668.0" y2="756.1" stroke="#333" stroke-width="0.5"/>
<text x="668.8" y="757.4" font-size="3.7" font-weight="bold" text-anchor="start" fill="#333" >20000</text>
<rect x="659.2" y="776.9" width="20.6" height="13.8" fill="#fff" stroke="#555" stroke-width="0.5"/>
<text x="669.5" y="781.2" font-size="3.5" font-weight="normal" text-anchor="middle" fill="#111" stroke="#111" stroke-width="0.12">Color Bar</text>
<text x="669.5" y="785.2" font-size="3.5" font-weight="normal" text-anchor="middle" fill="#111" stroke="#111" stroke-width="0.12">Min = 3000</text>
<text x="669.5" y="789.2" font-size="3.5" font-weight="normal" text-anchor="middle" fill="#111" stroke="#111" stroke-width="0.12">Max = 80000</text>
<text x="660" y="807.2" font-size="3.8" font-weight="normal" text-anchor="start" fill="#111" stroke="#111" stroke-width="0.12">bkg sub</text>
<text x="660" y="811.6" font-size="3.8" font-weight="normal" text-anchor="start" fill="#111" stroke="#111" stroke-width="0.12">flat-fielded</text>
<text x="660" y="816.0" font-size="3.8" font-weight="normal" text-anchor="start" fill="#111" stroke="#111" stroke-width="0.12">cosmic</text>
</g>
</svg>
</body></html>
